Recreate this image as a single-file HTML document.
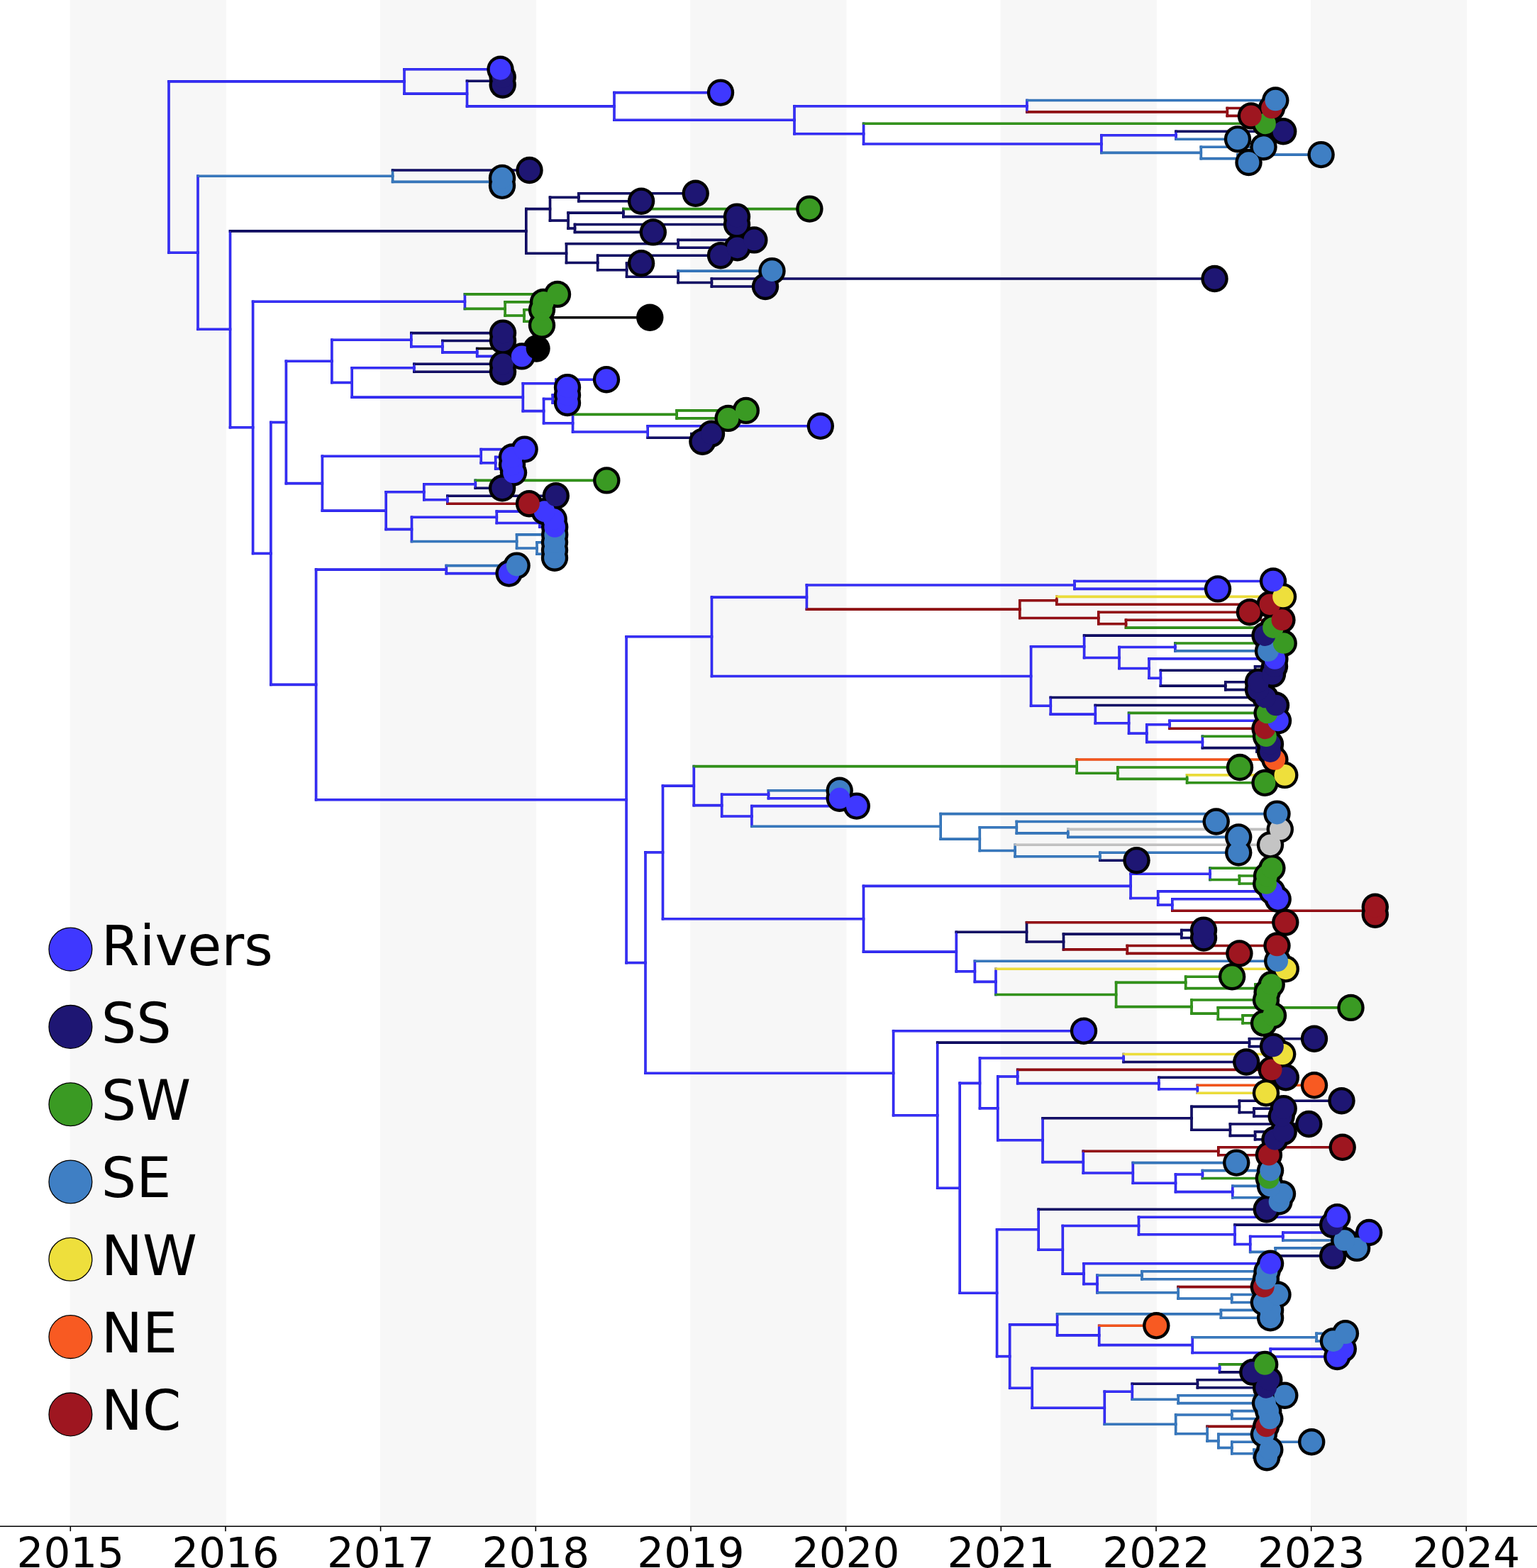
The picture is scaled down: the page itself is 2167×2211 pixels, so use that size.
<!DOCTYPE html>
<html><head><meta charset="utf-8"><title>Phylogeny</title>
<style>html,body{margin:0;padding:0;background:#fff;}svg{display:block;}</style>
</head><body>
<svg width="2167" height="2211" viewBox="0 0 2167 2211">
<rect x="0" y="0" width="2167" height="2211" fill="#ffffff"/>
<rect x="98.6" y="0" width="220.2" height="2152.2" fill="#f7f7f7"/>
<rect x="535.9" y="0" width="220.2" height="2152.2" fill="#f7f7f7"/>
<rect x="973.3" y="0" width="220.2" height="2152.2" fill="#f7f7f7"/>
<rect x="1410.6" y="0" width="220.2" height="2152.2" fill="#f7f7f7"/>
<rect x="1848.0" y="0" width="220.2" height="2152.2" fill="#f7f7f7"/>
<g stroke-width="3.6" stroke-linecap="square" fill="none">
<line x1="705.0" y1="108.7" x2="705.0" y2="119.7" stroke="#000051"/>
<line x1="1730.3" y1="152.5" x2="1730.3" y2="163.4" stroke="#810003"/>
<line x1="1447.9" y1="141.5" x2="1447.9" y2="157.9" stroke="#241de4"/>
<line x1="1658.0" y1="185.3" x2="1658.0" y2="196.2" stroke="#241de4"/>
<line x1="1745.0" y1="218.1" x2="1745.0" y2="229.0" stroke="#2a6aaf"/>
<line x1="1693.3" y1="207.2" x2="1693.3" y2="223.6" stroke="#2a6aaf"/>
<line x1="1552.9" y1="190.7" x2="1552.9" y2="215.4" stroke="#241de4"/>
<line x1="1217.6" y1="174.3" x2="1217.6" y2="203.0" stroke="#241de4"/>
<line x1="1120.0" y1="149.7" x2="1120.0" y2="188.7" stroke="#241de4"/>
<line x1="866.0" y1="130.6" x2="866.0" y2="169.2" stroke="#241de4"/>
<line x1="658.5" y1="114.2" x2="658.5" y2="149.9" stroke="#241de4"/>
<line x1="570.0" y1="97.8" x2="570.0" y2="132.1" stroke="#241de4"/>
<line x1="705.0" y1="250.9" x2="705.0" y2="261.8" stroke="#2a6aaf"/>
<line x1="553.6" y1="240.0" x2="553.6" y2="256.4" stroke="#2a6aaf"/>
<line x1="815.9" y1="272.8" x2="815.9" y2="283.7" stroke="#000051"/>
<line x1="878.9" y1="294.6" x2="878.9" y2="305.6" stroke="#000051"/>
<line x1="810.5" y1="316.5" x2="810.5" y2="327.4" stroke="#000051"/>
<line x1="801.1" y1="300.1" x2="801.1" y2="322.0" stroke="#000051"/>
<line x1="775.5" y1="278.2" x2="775.5" y2="311.0" stroke="#000051"/>
<line x1="956.1" y1="338.4" x2="956.1" y2="349.3" stroke="#000051"/>
<line x1="1003.4" y1="393.0" x2="1003.4" y2="404.0" stroke="#000051"/>
<line x1="956.1" y1="382.1" x2="956.1" y2="398.5" stroke="#000051"/>
<line x1="883.6" y1="371.2" x2="883.6" y2="390.3" stroke="#000051"/>
<line x1="842.7" y1="360.2" x2="842.7" y2="380.7" stroke="#000051"/>
<line x1="798.5" y1="343.8" x2="798.5" y2="370.5" stroke="#000051"/>
<line x1="741.8" y1="294.6" x2="741.8" y2="357.2" stroke="#000051"/>
<line x1="778.0" y1="447.7" x2="778.0" y2="458.7" stroke="#24840d"/>
<line x1="739.0" y1="436.8" x2="739.0" y2="453.2" stroke="#24840d"/>
<line x1="712.1" y1="425.9" x2="712.1" y2="445.0" stroke="#24840d"/>
<line x1="655.4" y1="414.9" x2="655.4" y2="435.4" stroke="#241de4"/>
<line x1="672.7" y1="491.5" x2="672.7" y2="502.4" stroke="#241de4"/>
<line x1="623.9" y1="480.5" x2="623.9" y2="496.9" stroke="#241de4"/>
<line x1="579.8" y1="469.6" x2="579.8" y2="488.7" stroke="#241de4"/>
<line x1="583.9" y1="513.3" x2="583.9" y2="524.3" stroke="#241de4"/>
<line x1="784.0" y1="535.2" x2="784.0" y2="546.1" stroke="#241de4"/>
<line x1="779.2" y1="557.1" x2="779.2" y2="568.0" stroke="#241de4"/>
<line x1="954.1" y1="578.9" x2="954.1" y2="589.9" stroke="#24840d"/>
<line x1="975.0" y1="611.7" x2="975.0" y2="622.7" stroke="#000051"/>
<line x1="913.2" y1="600.8" x2="913.2" y2="617.2" stroke="#241de4"/>
<line x1="807.6" y1="584.4" x2="807.6" y2="609.0" stroke="#241de4"/>
<line x1="766.6" y1="562.5" x2="766.6" y2="596.7" stroke="#241de4"/>
<line x1="737.3" y1="540.7" x2="737.3" y2="579.6" stroke="#241de4"/>
<line x1="496.2" y1="518.8" x2="496.2" y2="560.1" stroke="#241de4"/>
<line x1="467.9" y1="479.2" x2="467.9" y2="539.5" stroke="#241de4"/>
<line x1="710.0" y1="655.5" x2="710.0" y2="666.4" stroke="#241de4"/>
<line x1="698.7" y1="644.5" x2="698.7" y2="661.0" stroke="#241de4"/>
<line x1="678.2" y1="633.6" x2="678.2" y2="652.8" stroke="#241de4"/>
<line x1="670.3" y1="677.4" x2="670.3" y2="688.3" stroke="#241de4"/>
<line x1="630.9" y1="699.2" x2="630.9" y2="710.2" stroke="#241de4"/>
<line x1="597.8" y1="682.8" x2="597.8" y2="704.7" stroke="#241de4"/>
<line x1="760.9" y1="732.0" x2="760.9" y2="743.0" stroke="#241de4"/>
<line x1="700.3" y1="721.1" x2="700.3" y2="737.5" stroke="#241de4"/>
<line x1="770.0" y1="775.8" x2="770.0" y2="786.7" stroke="#2a6aaf"/>
<line x1="757.0" y1="764.8" x2="757.0" y2="781.2" stroke="#2a6aaf"/>
<line x1="728.6" y1="753.9" x2="728.6" y2="773.0" stroke="#2a6aaf"/>
<line x1="580.5" y1="729.3" x2="580.5" y2="763.5" stroke="#241de4"/>
<line x1="544.2" y1="693.8" x2="544.2" y2="746.4" stroke="#241de4"/>
<line x1="454.4" y1="643.2" x2="454.4" y2="720.1" stroke="#241de4"/>
<line x1="403.4" y1="509.3" x2="403.4" y2="681.6" stroke="#241de4"/>
<line x1="629.3" y1="797.6" x2="629.3" y2="808.6" stroke="#241de4"/>
<line x1="1515.0" y1="819.5" x2="1515.0" y2="830.4" stroke="#241de4"/>
<line x1="1489.8" y1="841.4" x2="1489.8" y2="852.3" stroke="#810003"/>
<line x1="1587.5" y1="874.2" x2="1587.5" y2="885.1" stroke="#810003"/>
<line x1="1548.8" y1="863.2" x2="1548.8" y2="879.7" stroke="#810003"/>
<line x1="1437.8" y1="846.8" x2="1437.8" y2="871.5" stroke="#810003"/>
<line x1="1137.4" y1="825.0" x2="1137.4" y2="859.1" stroke="#241de4"/>
<line x1="1656.9" y1="907.0" x2="1656.9" y2="917.9" stroke="#241de4"/>
<line x1="1769.6" y1="939.8" x2="1769.6" y2="950.7" stroke="#000051"/>
<line x1="1727.8" y1="961.7" x2="1727.8" y2="972.6" stroke="#000051"/>
<line x1="1636.4" y1="945.3" x2="1636.4" y2="967.1" stroke="#241de4"/>
<line x1="1620.0" y1="928.9" x2="1620.0" y2="956.2" stroke="#241de4"/>
<line x1="1578.0" y1="912.5" x2="1578.0" y2="942.5" stroke="#241de4"/>
<line x1="1528.6" y1="896.1" x2="1528.6" y2="927.5" stroke="#241de4"/>
<line x1="1649.0" y1="1016.3" x2="1649.0" y2="1027.3" stroke="#241de4"/>
<line x1="1772.0" y1="1049.1" x2="1772.0" y2="1060.1" stroke="#000051"/>
<line x1="1695.4" y1="1038.2" x2="1695.4" y2="1054.6" stroke="#241de4"/>
<line x1="1616.8" y1="1021.8" x2="1616.8" y2="1046.4" stroke="#241de4"/>
<line x1="1591.6" y1="1005.4" x2="1591.6" y2="1034.1" stroke="#241de4"/>
<line x1="1544.3" y1="994.5" x2="1544.3" y2="1019.8" stroke="#241de4"/>
<line x1="1481.3" y1="983.5" x2="1481.3" y2="1007.1" stroke="#241de4"/>
<line x1="1453.6" y1="911.8" x2="1453.6" y2="995.3" stroke="#241de4"/>
<line x1="1003.5" y1="842.1" x2="1003.5" y2="953.5" stroke="#241de4"/>
<line x1="1673.6" y1="1092.9" x2="1673.6" y2="1103.8" stroke="#24840d"/>
<line x1="1575.9" y1="1082.0" x2="1575.9" y2="1098.4" stroke="#24840d"/>
<line x1="1518.2" y1="1071.0" x2="1518.2" y2="1090.2" stroke="#24840d"/>
<line x1="1083.5" y1="1114.8" x2="1083.5" y2="1125.7" stroke="#241de4"/>
<line x1="1505.8" y1="1169.4" x2="1505.8" y2="1180.4" stroke="#2a6aaf"/>
<line x1="1433.3" y1="1158.5" x2="1433.3" y2="1174.9" stroke="#2a6aaf"/>
<line x1="1550.9" y1="1202.2" x2="1550.9" y2="1213.2" stroke="#2a6aaf"/>
<line x1="1431.1" y1="1191.3" x2="1431.1" y2="1207.7" stroke="#2a6aaf"/>
<line x1="1381.3" y1="1166.7" x2="1381.3" y2="1199.5" stroke="#2a6aaf"/>
<line x1="1326.2" y1="1147.6" x2="1326.2" y2="1183.1" stroke="#2a6aaf"/>
<line x1="1059.9" y1="1136.6" x2="1059.9" y2="1165.3" stroke="#241de4"/>
<line x1="1017.7" y1="1120.2" x2="1017.7" y2="1151.0" stroke="#241de4"/>
<line x1="978.3" y1="1080.6" x2="978.3" y2="1135.6" stroke="#241de4"/>
<line x1="1747.4" y1="1235.0" x2="1747.4" y2="1246.0" stroke="#24840d"/>
<line x1="1706.0" y1="1224.1" x2="1706.0" y2="1240.5" stroke="#241de4"/>
<line x1="1935.0" y1="1278.8" x2="1935.0" y2="1289.7" stroke="#810003"/>
<line x1="1652.8" y1="1267.8" x2="1652.8" y2="1284.2" stroke="#241de4"/>
<line x1="1632.7" y1="1256.9" x2="1632.7" y2="1276.0" stroke="#241de4"/>
<line x1="1594.1" y1="1232.3" x2="1594.1" y2="1266.5" stroke="#241de4"/>
<line x1="1665.8" y1="1311.6" x2="1665.8" y2="1322.5" stroke="#000051"/>
<line x1="1589.3" y1="1333.5" x2="1589.3" y2="1344.4" stroke="#810003"/>
<line x1="1499.5" y1="1317.1" x2="1499.5" y2="1338.9" stroke="#000051"/>
<line x1="1447.5" y1="1300.7" x2="1447.5" y2="1328.0" stroke="#000051"/>
<line x1="1770.0" y1="1388.1" x2="1770.0" y2="1399.1" stroke="#24840d"/>
<line x1="1671.7" y1="1377.2" x2="1671.7" y2="1393.6" stroke="#24840d"/>
<line x1="1752.1" y1="1431.9" x2="1752.1" y2="1442.8" stroke="#24840d"/>
<line x1="1717.3" y1="1420.9" x2="1717.3" y2="1437.3" stroke="#24840d"/>
<line x1="1680.0" y1="1410.0" x2="1680.0" y2="1429.1" stroke="#24840d"/>
<line x1="1573.6" y1="1385.4" x2="1573.6" y2="1419.6" stroke="#24840d"/>
<line x1="1404.0" y1="1366.3" x2="1404.0" y2="1402.5" stroke="#241de4"/>
<line x1="1374.4" y1="1355.3" x2="1374.4" y2="1384.4" stroke="#241de4"/>
<line x1="1348.3" y1="1314.3" x2="1348.3" y2="1369.8" stroke="#241de4"/>
<line x1="1217.5" y1="1249.4" x2="1217.5" y2="1342.1" stroke="#241de4"/>
<line x1="934.5" y1="1108.1" x2="934.5" y2="1295.7" stroke="#241de4"/>
<line x1="1761.5" y1="1464.7" x2="1761.5" y2="1475.6" stroke="#000051"/>
<line x1="1584.1" y1="1486.5" x2="1584.1" y2="1497.5" stroke="#241de4"/>
<line x1="1688.3" y1="1530.3" x2="1688.3" y2="1541.2" stroke="#241de4"/>
<line x1="1633.9" y1="1519.3" x2="1633.9" y2="1535.8" stroke="#241de4"/>
<line x1="1434.7" y1="1508.4" x2="1434.7" y2="1527.6" stroke="#241de4"/>
<line x1="1768.0" y1="1563.1" x2="1768.0" y2="1574.0" stroke="#000051"/>
<line x1="1747.4" y1="1552.2" x2="1747.4" y2="1568.6" stroke="#000051"/>
<line x1="1769.6" y1="1595.9" x2="1769.6" y2="1606.8" stroke="#000051"/>
<line x1="1734.4" y1="1585.0" x2="1734.4" y2="1601.4" stroke="#000051"/>
<line x1="1680.0" y1="1560.4" x2="1680.0" y2="1593.2" stroke="#000051"/>
<line x1="1717.8" y1="1617.8" x2="1717.8" y2="1628.7" stroke="#810003"/>
<line x1="1695.4" y1="1650.6" x2="1695.4" y2="1661.5" stroke="#241de4"/>
<line x1="1785.0" y1="1683.4" x2="1785.0" y2="1694.3" stroke="#2a6aaf"/>
<line x1="1737.8" y1="1672.4" x2="1737.8" y2="1688.8" stroke="#241de4"/>
<line x1="1657.5" y1="1656.0" x2="1657.5" y2="1680.6" stroke="#241de4"/>
<line x1="1597.3" y1="1639.6" x2="1597.3" y2="1668.3" stroke="#241de4"/>
<line x1="1527.3" y1="1623.2" x2="1527.3" y2="1654.0" stroke="#241de4"/>
<line x1="1470.1" y1="1576.8" x2="1470.1" y2="1638.6" stroke="#241de4"/>
<line x1="1406.8" y1="1518.0" x2="1406.8" y2="1607.7" stroke="#241de4"/>
<line x1="1381.5" y1="1492.0" x2="1381.5" y2="1562.8" stroke="#241de4"/>
<line x1="1808.8" y1="1738.0" x2="1808.8" y2="1749.0" stroke="#241de4"/>
<line x1="1798.2" y1="1759.9" x2="1798.2" y2="1770.9" stroke="#2a6aaf"/>
<line x1="1762.7" y1="1743.5" x2="1762.7" y2="1765.4" stroke="#241de4"/>
<line x1="1741.0" y1="1727.1" x2="1741.0" y2="1754.5" stroke="#241de4"/>
<line x1="1605.5" y1="1716.2" x2="1605.5" y2="1740.8" stroke="#241de4"/>
<line x1="1610.0" y1="1792.7" x2="1610.0" y2="1803.7" stroke="#2a6aaf"/>
<line x1="1736.7" y1="1825.5" x2="1736.7" y2="1836.5" stroke="#2a6aaf"/>
<line x1="1661.1" y1="1814.6" x2="1661.1" y2="1831.0" stroke="#2a6aaf"/>
<line x1="1547.0" y1="1798.2" x2="1547.0" y2="1822.8" stroke="#241de4"/>
<line x1="1528.0" y1="1781.8" x2="1528.0" y2="1810.5" stroke="#241de4"/>
<line x1="1498.3" y1="1728.5" x2="1498.3" y2="1796.1" stroke="#241de4"/>
<line x1="1464.2" y1="1705.2" x2="1464.2" y2="1762.3" stroke="#241de4"/>
<line x1="1721.4" y1="1847.4" x2="1721.4" y2="1858.3" stroke="#2a6aaf"/>
<line x1="1856.1" y1="1880.2" x2="1856.1" y2="1891.1" stroke="#2a6aaf"/>
<line x1="1791.3" y1="1902.1" x2="1791.3" y2="1913.0" stroke="#241de4"/>
<line x1="1681.2" y1="1885.7" x2="1681.2" y2="1907.5" stroke="#241de4"/>
<line x1="1549.7" y1="1869.3" x2="1549.7" y2="1896.6" stroke="#241de4"/>
<line x1="1490.6" y1="1852.9" x2="1490.6" y2="1882.9" stroke="#241de4"/>
<line x1="1719.6" y1="1923.9" x2="1719.6" y2="1934.9" stroke="#241de4"/>
<line x1="1688.4" y1="1945.8" x2="1688.4" y2="1956.8" stroke="#000051"/>
<line x1="1661.2" y1="1967.7" x2="1661.2" y2="1978.6" stroke="#2a6aaf"/>
<line x1="1596.3" y1="1951.3" x2="1596.3" y2="1973.2" stroke="#241de4"/>
<line x1="1736.8" y1="1989.6" x2="1736.8" y2="2000.5" stroke="#2a6aaf"/>
<line x1="1768.0" y1="2044.2" x2="1768.0" y2="2055.2" stroke="#2a6aaf"/>
<line x1="1736.8" y1="2033.3" x2="1736.8" y2="2049.7" stroke="#2a6aaf"/>
<line x1="1717.9" y1="2022.4" x2="1717.9" y2="2041.5" stroke="#2a6aaf"/>
<line x1="1702.1" y1="2011.4" x2="1702.1" y2="2031.9" stroke="#2a6aaf"/>
<line x1="1657.7" y1="1995.0" x2="1657.7" y2="2021.7" stroke="#2a6aaf"/>
<line x1="1557.3" y1="1962.2" x2="1557.3" y2="2008.3" stroke="#241de4"/>
<line x1="1455.2" y1="1929.4" x2="1455.2" y2="1985.3" stroke="#241de4"/>
<line x1="1423.7" y1="1867.9" x2="1423.7" y2="1957.3" stroke="#241de4"/>
<line x1="1405.6" y1="1733.8" x2="1405.6" y2="1912.6" stroke="#241de4"/>
<line x1="1353.2" y1="1527.4" x2="1353.2" y2="1823.2" stroke="#241de4"/>
<line x1="1321.7" y1="1470.1" x2="1321.7" y2="1675.3" stroke="#241de4"/>
<line x1="1259.6" y1="1453.7" x2="1259.6" y2="1572.7" stroke="#241de4"/>
<line x1="910.0" y1="1201.9" x2="910.0" y2="1513.2" stroke="#241de4"/>
<line x1="883.1" y1="897.8" x2="883.1" y2="1357.6" stroke="#241de4"/>
<line x1="445.6" y1="803.1" x2="445.6" y2="1127.7" stroke="#241de4"/>
<line x1="381.9" y1="595.5" x2="381.9" y2="965.4" stroke="#241de4"/>
<line x1="356.6" y1="425.2" x2="356.6" y2="780.4" stroke="#241de4"/>
<line x1="324.5" y1="325.9" x2="324.5" y2="602.8" stroke="#241de4"/>
<line x1="279.0" y1="248.2" x2="279.0" y2="464.3" stroke="#241de4"/>
<line x1="238.0" y1="114.9" x2="238.0" y2="356.3" stroke="#241de4"/>
<line x1="570.0" y1="97.8" x2="705.5" y2="97.8" stroke="#241de4"/>
<line x1="705.0" y1="108.7" x2="708.7" y2="108.7" stroke="#000051"/>
<line x1="705.0" y1="119.7" x2="708.7" y2="119.7" stroke="#000051"/>
<line x1="658.5" y1="114.2" x2="705.0" y2="114.2" stroke="#000051"/>
<line x1="866.0" y1="130.6" x2="1016.0" y2="130.6" stroke="#241de4"/>
<line x1="1447.9" y1="141.5" x2="1798.3" y2="141.5" stroke="#2a6aaf"/>
<line x1="1730.3" y1="152.5" x2="1793.0" y2="152.5" stroke="#810003"/>
<line x1="1730.3" y1="163.4" x2="1763.9" y2="163.4" stroke="#810003"/>
<line x1="1447.9" y1="157.9" x2="1730.3" y2="157.9" stroke="#810003"/>
<line x1="1120.0" y1="149.7" x2="1447.9" y2="149.7" stroke="#241de4"/>
<line x1="1217.6" y1="174.3" x2="1784.0" y2="174.3" stroke="#24840d"/>
<line x1="1658.0" y1="185.3" x2="1809.2" y2="185.3" stroke="#000051"/>
<line x1="1658.0" y1="196.2" x2="1745.0" y2="196.2" stroke="#2a6aaf"/>
<line x1="1552.9" y1="190.7" x2="1658.0" y2="190.7" stroke="#241de4"/>
<line x1="1693.3" y1="207.2" x2="1781.5" y2="207.2" stroke="#2a6aaf"/>
<line x1="1745.0" y1="218.1" x2="1862.6" y2="218.1" stroke="#2a6aaf"/>
<line x1="1745.0" y1="229.0" x2="1760.5" y2="229.0" stroke="#2a6aaf"/>
<line x1="1693.3" y1="223.6" x2="1745.0" y2="223.6" stroke="#2a6aaf"/>
<line x1="1552.9" y1="215.4" x2="1693.3" y2="215.4" stroke="#2a6aaf"/>
<line x1="1217.6" y1="203.0" x2="1552.9" y2="203.0" stroke="#241de4"/>
<line x1="1120.0" y1="188.7" x2="1217.6" y2="188.7" stroke="#241de4"/>
<line x1="866.0" y1="169.2" x2="1120.0" y2="169.2" stroke="#241de4"/>
<line x1="658.5" y1="149.9" x2="866.0" y2="149.9" stroke="#241de4"/>
<line x1="570.0" y1="132.1" x2="658.5" y2="132.1" stroke="#241de4"/>
<line x1="238.0" y1="114.9" x2="570.0" y2="114.9" stroke="#241de4"/>
<line x1="553.6" y1="240.0" x2="746.5" y2="240.0" stroke="#000051"/>
<line x1="705.0" y1="250.9" x2="708.0" y2="250.9" stroke="#2a6aaf"/>
<line x1="705.0" y1="261.8" x2="708.0" y2="261.8" stroke="#2a6aaf"/>
<line x1="553.6" y1="256.4" x2="705.0" y2="256.4" stroke="#2a6aaf"/>
<line x1="279.0" y1="248.2" x2="553.6" y2="248.2" stroke="#2a6aaf"/>
<line x1="815.9" y1="272.8" x2="980.7" y2="272.8" stroke="#000051"/>
<line x1="815.9" y1="283.7" x2="904.1" y2="283.7" stroke="#000051"/>
<line x1="775.5" y1="278.2" x2="815.9" y2="278.2" stroke="#000051"/>
<line x1="878.9" y1="294.6" x2="1141.4" y2="294.6" stroke="#24840d"/>
<line x1="878.9" y1="305.6" x2="1039.0" y2="305.6" stroke="#000051"/>
<line x1="801.1" y1="300.1" x2="878.9" y2="300.1" stroke="#000051"/>
<line x1="810.5" y1="316.5" x2="1039.0" y2="316.5" stroke="#000051"/>
<line x1="810.5" y1="327.4" x2="920.8" y2="327.4" stroke="#000051"/>
<line x1="801.1" y1="322.0" x2="810.5" y2="322.0" stroke="#000051"/>
<line x1="775.5" y1="311.0" x2="801.1" y2="311.0" stroke="#000051"/>
<line x1="741.8" y1="294.6" x2="775.5" y2="294.6" stroke="#000051"/>
<line x1="956.1" y1="338.4" x2="1063.3" y2="338.4" stroke="#000051"/>
<line x1="956.1" y1="349.3" x2="1039.6" y2="349.3" stroke="#000051"/>
<line x1="798.5" y1="343.8" x2="956.1" y2="343.8" stroke="#000051"/>
<line x1="842.7" y1="360.2" x2="1016.0" y2="360.2" stroke="#000051"/>
<line x1="883.6" y1="371.2" x2="904.1" y2="371.2" stroke="#000051"/>
<line x1="956.1" y1="382.1" x2="1088.5" y2="382.1" stroke="#2a6aaf"/>
<line x1="1003.4" y1="393.0" x2="1712.5" y2="393.0" stroke="#000051"/>
<line x1="1003.4" y1="404.0" x2="1079.0" y2="404.0" stroke="#000051"/>
<line x1="956.1" y1="398.5" x2="1003.4" y2="398.5" stroke="#000051"/>
<line x1="883.6" y1="390.3" x2="956.1" y2="390.3" stroke="#000051"/>
<line x1="842.7" y1="380.7" x2="883.6" y2="380.7" stroke="#000051"/>
<line x1="798.5" y1="370.5" x2="842.7" y2="370.5" stroke="#000051"/>
<line x1="741.8" y1="357.2" x2="798.5" y2="357.2" stroke="#000051"/>
<line x1="324.5" y1="325.9" x2="741.8" y2="325.9" stroke="#000051"/>
<line x1="655.4" y1="414.9" x2="786.0" y2="414.9" stroke="#24840d"/>
<line x1="712.1" y1="425.9" x2="766.0" y2="425.9" stroke="#24840d"/>
<line x1="739.0" y1="436.8" x2="764.0" y2="436.8" stroke="#24840d"/>
<line x1="778.0" y1="447.7" x2="916.3" y2="447.7" stroke="#000000"/>
<line x1="778.0" y1="458.7" x2="764.0" y2="458.7" stroke="#24840d"/>
<line x1="739.0" y1="453.2" x2="778.0" y2="453.2" stroke="#24840d"/>
<line x1="712.1" y1="445.0" x2="739.0" y2="445.0" stroke="#24840d"/>
<line x1="655.4" y1="435.4" x2="712.1" y2="435.4" stroke="#24840d"/>
<line x1="356.6" y1="425.2" x2="655.4" y2="425.2" stroke="#241de4"/>
<line x1="579.8" y1="469.6" x2="709.0" y2="469.6" stroke="#000051"/>
<line x1="623.9" y1="480.5" x2="709.0" y2="480.5" stroke="#000051"/>
<line x1="672.7" y1="491.5" x2="756.5" y2="491.5" stroke="#000000"/>
<line x1="672.7" y1="502.4" x2="735.7" y2="502.4" stroke="#241de4"/>
<line x1="623.9" y1="496.9" x2="672.7" y2="496.9" stroke="#241de4"/>
<line x1="579.8" y1="488.7" x2="623.9" y2="488.7" stroke="#241de4"/>
<line x1="467.9" y1="479.2" x2="579.8" y2="479.2" stroke="#241de4"/>
<line x1="583.9" y1="513.3" x2="709.0" y2="513.3" stroke="#000051"/>
<line x1="583.9" y1="524.3" x2="709.0" y2="524.3" stroke="#000051"/>
<line x1="496.2" y1="518.8" x2="583.9" y2="518.8" stroke="#241de4"/>
<line x1="784.0" y1="535.2" x2="855.0" y2="535.2" stroke="#241de4"/>
<line x1="784.0" y1="546.1" x2="800.0" y2="546.1" stroke="#241de4"/>
<line x1="737.3" y1="540.7" x2="784.0" y2="540.7" stroke="#241de4"/>
<line x1="779.2" y1="557.1" x2="800.0" y2="557.1" stroke="#241de4"/>
<line x1="779.2" y1="568.0" x2="800.0" y2="568.0" stroke="#241de4"/>
<line x1="766.6" y1="562.5" x2="779.2" y2="562.5" stroke="#241de4"/>
<line x1="954.1" y1="578.9" x2="1051.8" y2="578.9" stroke="#24840d"/>
<line x1="954.1" y1="589.9" x2="1026.6" y2="589.9" stroke="#24840d"/>
<line x1="807.6" y1="584.4" x2="954.1" y2="584.4" stroke="#24840d"/>
<line x1="913.2" y1="600.8" x2="1156.8" y2="600.8" stroke="#241de4"/>
<line x1="975.0" y1="611.7" x2="1003.0" y2="611.7" stroke="#000051"/>
<line x1="975.0" y1="622.7" x2="990.4" y2="622.7" stroke="#000051"/>
<line x1="913.2" y1="617.2" x2="975.0" y2="617.2" stroke="#000051"/>
<line x1="807.6" y1="609.0" x2="913.2" y2="609.0" stroke="#241de4"/>
<line x1="766.6" y1="596.7" x2="807.6" y2="596.7" stroke="#241de4"/>
<line x1="737.3" y1="579.6" x2="766.6" y2="579.6" stroke="#241de4"/>
<line x1="496.2" y1="560.1" x2="737.3" y2="560.1" stroke="#241de4"/>
<line x1="467.9" y1="539.5" x2="496.2" y2="539.5" stroke="#241de4"/>
<line x1="403.4" y1="509.3" x2="467.9" y2="509.3" stroke="#241de4"/>
<line x1="678.2" y1="633.6" x2="739.6" y2="633.6" stroke="#241de4"/>
<line x1="698.7" y1="644.5" x2="722.0" y2="644.5" stroke="#241de4"/>
<line x1="710.0" y1="655.5" x2="722.0" y2="655.5" stroke="#241de4"/>
<line x1="710.0" y1="666.4" x2="724.0" y2="666.4" stroke="#241de4"/>
<line x1="698.7" y1="661.0" x2="710.0" y2="661.0" stroke="#241de4"/>
<line x1="678.2" y1="652.8" x2="698.7" y2="652.8" stroke="#241de4"/>
<line x1="454.4" y1="643.2" x2="678.2" y2="643.2" stroke="#241de4"/>
<line x1="670.3" y1="677.4" x2="855.3" y2="677.4" stroke="#24840d"/>
<line x1="670.3" y1="688.3" x2="708.1" y2="688.3" stroke="#000051"/>
<line x1="597.8" y1="682.8" x2="670.3" y2="682.8" stroke="#241de4"/>
<line x1="630.9" y1="699.2" x2="783.8" y2="699.2" stroke="#000051"/>
<line x1="630.9" y1="710.2" x2="746.0" y2="710.2" stroke="#810003"/>
<line x1="597.8" y1="704.7" x2="630.9" y2="704.7" stroke="#241de4"/>
<line x1="544.2" y1="693.8" x2="597.8" y2="693.8" stroke="#241de4"/>
<line x1="700.3" y1="721.1" x2="767.5" y2="721.1" stroke="#241de4"/>
<line x1="760.9" y1="732.0" x2="780.7" y2="732.0" stroke="#241de4"/>
<line x1="760.9" y1="743.0" x2="782.2" y2="743.0" stroke="#241de4"/>
<line x1="700.3" y1="737.5" x2="760.9" y2="737.5" stroke="#241de4"/>
<line x1="580.5" y1="729.3" x2="700.3" y2="729.3" stroke="#241de4"/>
<line x1="728.6" y1="753.9" x2="782.2" y2="753.9" stroke="#2a6aaf"/>
<line x1="757.0" y1="764.8" x2="782.0" y2="764.8" stroke="#2a6aaf"/>
<line x1="770.0" y1="775.8" x2="782.0" y2="775.8" stroke="#2a6aaf"/>
<line x1="770.0" y1="786.7" x2="782.0" y2="786.7" stroke="#2a6aaf"/>
<line x1="757.0" y1="781.2" x2="770.0" y2="781.2" stroke="#2a6aaf"/>
<line x1="728.6" y1="773.0" x2="757.0" y2="773.0" stroke="#2a6aaf"/>
<line x1="580.5" y1="763.5" x2="728.6" y2="763.5" stroke="#2a6aaf"/>
<line x1="544.2" y1="746.4" x2="580.5" y2="746.4" stroke="#241de4"/>
<line x1="454.4" y1="720.1" x2="544.2" y2="720.1" stroke="#241de4"/>
<line x1="403.4" y1="681.6" x2="454.4" y2="681.6" stroke="#241de4"/>
<line x1="381.9" y1="595.5" x2="403.4" y2="595.5" stroke="#241de4"/>
<line x1="629.3" y1="797.6" x2="728.6" y2="797.6" stroke="#2a6aaf"/>
<line x1="629.3" y1="808.6" x2="717.6" y2="808.6" stroke="#241de4"/>
<line x1="445.6" y1="803.1" x2="629.3" y2="803.1" stroke="#241de4"/>
<line x1="1515.0" y1="819.5" x2="1795.0" y2="819.5" stroke="#241de4"/>
<line x1="1515.0" y1="830.4" x2="1717.0" y2="830.4" stroke="#241de4"/>
<line x1="1137.4" y1="825.0" x2="1515.0" y2="825.0" stroke="#241de4"/>
<line x1="1489.8" y1="841.4" x2="1809.0" y2="841.4" stroke="#e7d835"/>
<line x1="1489.8" y1="852.3" x2="1790.4" y2="852.3" stroke="#810003"/>
<line x1="1437.8" y1="846.8" x2="1489.8" y2="846.8" stroke="#810003"/>
<line x1="1548.8" y1="863.2" x2="1761.9" y2="863.2" stroke="#810003"/>
<line x1="1587.5" y1="874.2" x2="1807.4" y2="874.2" stroke="#810003"/>
<line x1="1587.5" y1="885.1" x2="1795.0" y2="885.1" stroke="#24840d"/>
<line x1="1548.8" y1="879.7" x2="1587.5" y2="879.7" stroke="#810003"/>
<line x1="1437.8" y1="871.5" x2="1548.8" y2="871.5" stroke="#810003"/>
<line x1="1137.4" y1="859.1" x2="1437.8" y2="859.1" stroke="#810003"/>
<line x1="1003.5" y1="842.1" x2="1137.4" y2="842.1" stroke="#241de4"/>
<line x1="1528.6" y1="896.1" x2="1783.5" y2="896.1" stroke="#000051"/>
<line x1="1656.9" y1="907.0" x2="1809.7" y2="907.0" stroke="#24840d"/>
<line x1="1656.9" y1="917.9" x2="1788.0" y2="917.9" stroke="#2a6aaf"/>
<line x1="1578.0" y1="912.5" x2="1656.9" y2="912.5" stroke="#241de4"/>
<line x1="1620.0" y1="928.9" x2="1797.4" y2="928.9" stroke="#241de4"/>
<line x1="1769.6" y1="939.8" x2="1797.0" y2="939.8" stroke="#000051"/>
<line x1="1769.6" y1="950.7" x2="1794.0" y2="950.7" stroke="#000051"/>
<line x1="1636.4" y1="945.3" x2="1769.6" y2="945.3" stroke="#000051"/>
<line x1="1727.8" y1="961.7" x2="1774.0" y2="961.7" stroke="#000051"/>
<line x1="1727.8" y1="972.6" x2="1774.0" y2="972.6" stroke="#000051"/>
<line x1="1636.4" y1="967.1" x2="1727.8" y2="967.1" stroke="#000051"/>
<line x1="1620.0" y1="956.2" x2="1636.4" y2="956.2" stroke="#241de4"/>
<line x1="1578.0" y1="942.5" x2="1620.0" y2="942.5" stroke="#241de4"/>
<line x1="1528.6" y1="927.5" x2="1578.0" y2="927.5" stroke="#241de4"/>
<line x1="1453.6" y1="911.8" x2="1528.6" y2="911.8" stroke="#241de4"/>
<line x1="1481.3" y1="983.5" x2="1784.0" y2="983.5" stroke="#000051"/>
<line x1="1544.3" y1="994.5" x2="1799.0" y2="994.5" stroke="#000051"/>
<line x1="1591.6" y1="1005.4" x2="1786.6" y2="1005.4" stroke="#24840d"/>
<line x1="1649.0" y1="1016.3" x2="1802.0" y2="1016.3" stroke="#241de4"/>
<line x1="1649.0" y1="1027.3" x2="1783.5" y2="1027.3" stroke="#810003"/>
<line x1="1616.8" y1="1021.8" x2="1649.0" y2="1021.8" stroke="#241de4"/>
<line x1="1695.4" y1="1038.2" x2="1785.0" y2="1038.2" stroke="#24840d"/>
<line x1="1772.0" y1="1049.1" x2="1791.0" y2="1049.1" stroke="#000051"/>
<line x1="1772.0" y1="1060.1" x2="1791.0" y2="1060.1" stroke="#000051"/>
<line x1="1695.4" y1="1054.6" x2="1772.0" y2="1054.6" stroke="#000051"/>
<line x1="1616.8" y1="1046.4" x2="1695.4" y2="1046.4" stroke="#241de4"/>
<line x1="1591.6" y1="1034.1" x2="1616.8" y2="1034.1" stroke="#241de4"/>
<line x1="1544.3" y1="1019.8" x2="1591.6" y2="1019.8" stroke="#241de4"/>
<line x1="1481.3" y1="1007.1" x2="1544.3" y2="1007.1" stroke="#241de4"/>
<line x1="1453.6" y1="995.3" x2="1481.3" y2="995.3" stroke="#241de4"/>
<line x1="1003.5" y1="953.5" x2="1453.6" y2="953.5" stroke="#241de4"/>
<line x1="883.1" y1="897.8" x2="1003.5" y2="897.8" stroke="#241de4"/>
<line x1="1518.2" y1="1071.0" x2="1797.4" y2="1071.0" stroke="#e5470f"/>
<line x1="1575.9" y1="1082.0" x2="1748.0" y2="1082.0" stroke="#24840d"/>
<line x1="1673.6" y1="1092.9" x2="1811.3" y2="1092.9" stroke="#e7d835"/>
<line x1="1673.6" y1="1103.8" x2="1783.5" y2="1103.8" stroke="#24840d"/>
<line x1="1575.9" y1="1098.4" x2="1673.6" y2="1098.4" stroke="#24840d"/>
<line x1="1518.2" y1="1090.2" x2="1575.9" y2="1090.2" stroke="#24840d"/>
<line x1="978.3" y1="1080.6" x2="1518.2" y2="1080.6" stroke="#24840d"/>
<line x1="1083.5" y1="1114.8" x2="1183.7" y2="1114.8" stroke="#2a6aaf"/>
<line x1="1083.5" y1="1125.7" x2="1183.7" y2="1125.7" stroke="#241de4"/>
<line x1="1017.7" y1="1120.2" x2="1083.5" y2="1120.2" stroke="#241de4"/>
<line x1="1059.9" y1="1136.6" x2="1207.8" y2="1136.6" stroke="#241de4"/>
<line x1="1326.2" y1="1147.6" x2="1800.5" y2="1147.6" stroke="#2a6aaf"/>
<line x1="1433.3" y1="1158.5" x2="1714.7" y2="1158.5" stroke="#2a6aaf"/>
<line x1="1505.8" y1="1169.4" x2="1804.8" y2="1169.4" stroke="#bbbbbb"/>
<line x1="1505.8" y1="1180.4" x2="1746.2" y2="1180.4" stroke="#2a6aaf"/>
<line x1="1433.3" y1="1174.9" x2="1505.8" y2="1174.9" stroke="#2a6aaf"/>
<line x1="1381.3" y1="1166.7" x2="1433.3" y2="1166.7" stroke="#2a6aaf"/>
<line x1="1431.1" y1="1191.3" x2="1791.0" y2="1191.3" stroke="#bbbbbb"/>
<line x1="1550.9" y1="1202.2" x2="1746.2" y2="1202.2" stroke="#2a6aaf"/>
<line x1="1550.9" y1="1213.2" x2="1602.5" y2="1213.2" stroke="#000051"/>
<line x1="1431.1" y1="1207.7" x2="1550.9" y2="1207.7" stroke="#2a6aaf"/>
<line x1="1381.3" y1="1199.5" x2="1431.1" y2="1199.5" stroke="#2a6aaf"/>
<line x1="1326.2" y1="1183.1" x2="1381.3" y2="1183.1" stroke="#2a6aaf"/>
<line x1="1059.9" y1="1165.3" x2="1326.2" y2="1165.3" stroke="#2a6aaf"/>
<line x1="1017.7" y1="1151.0" x2="1059.9" y2="1151.0" stroke="#241de4"/>
<line x1="978.3" y1="1135.6" x2="1017.7" y2="1135.6" stroke="#241de4"/>
<line x1="934.5" y1="1108.1" x2="978.3" y2="1108.1" stroke="#241de4"/>
<line x1="1706.0" y1="1224.1" x2="1793.4" y2="1224.1" stroke="#24840d"/>
<line x1="1747.4" y1="1235.0" x2="1786.0" y2="1235.0" stroke="#24840d"/>
<line x1="1747.4" y1="1246.0" x2="1785.2" y2="1246.0" stroke="#24840d"/>
<line x1="1706.0" y1="1240.5" x2="1747.4" y2="1240.5" stroke="#24840d"/>
<line x1="1594.1" y1="1232.3" x2="1706.0" y2="1232.3" stroke="#241de4"/>
<line x1="1632.7" y1="1256.9" x2="1793.4" y2="1256.9" stroke="#241de4"/>
<line x1="1652.8" y1="1267.8" x2="1801.7" y2="1267.8" stroke="#241de4"/>
<line x1="1935.0" y1="1278.8" x2="1938.8" y2="1278.8" stroke="#810003"/>
<line x1="1935.0" y1="1289.7" x2="1938.8" y2="1289.7" stroke="#810003"/>
<line x1="1652.8" y1="1284.2" x2="1935.0" y2="1284.2" stroke="#810003"/>
<line x1="1632.7" y1="1276.0" x2="1652.8" y2="1276.0" stroke="#241de4"/>
<line x1="1594.1" y1="1266.5" x2="1632.7" y2="1266.5" stroke="#241de4"/>
<line x1="1217.5" y1="1249.4" x2="1594.1" y2="1249.4" stroke="#241de4"/>
<line x1="1447.5" y1="1300.7" x2="1812.3" y2="1300.7" stroke="#810003"/>
<line x1="1665.8" y1="1311.6" x2="1697.0" y2="1311.6" stroke="#000051"/>
<line x1="1665.8" y1="1322.5" x2="1697.0" y2="1322.5" stroke="#000051"/>
<line x1="1499.5" y1="1317.1" x2="1665.8" y2="1317.1" stroke="#000051"/>
<line x1="1589.3" y1="1333.5" x2="1800.5" y2="1333.5" stroke="#810003"/>
<line x1="1589.3" y1="1344.4" x2="1747.4" y2="1344.4" stroke="#810003"/>
<line x1="1499.5" y1="1338.9" x2="1589.3" y2="1338.9" stroke="#810003"/>
<line x1="1447.5" y1="1328.0" x2="1499.5" y2="1328.0" stroke="#000051"/>
<line x1="1348.3" y1="1314.3" x2="1447.5" y2="1314.3" stroke="#000051"/>
<line x1="1374.4" y1="1355.3" x2="1801.2" y2="1355.3" stroke="#2a6aaf"/>
<line x1="1404.0" y1="1366.3" x2="1812.8" y2="1366.3" stroke="#e7d835"/>
<line x1="1671.7" y1="1377.2" x2="1737.1" y2="1377.2" stroke="#24840d"/>
<line x1="1770.0" y1="1388.1" x2="1792.7" y2="1388.1" stroke="#24840d"/>
<line x1="1770.0" y1="1399.1" x2="1786.6" y2="1399.1" stroke="#24840d"/>
<line x1="1671.7" y1="1393.6" x2="1770.0" y2="1393.6" stroke="#24840d"/>
<line x1="1573.6" y1="1385.4" x2="1671.7" y2="1385.4" stroke="#24840d"/>
<line x1="1680.0" y1="1410.0" x2="1785.0" y2="1410.0" stroke="#24840d"/>
<line x1="1717.3" y1="1420.9" x2="1904.5" y2="1420.9" stroke="#24840d"/>
<line x1="1752.1" y1="1431.9" x2="1795.0" y2="1431.9" stroke="#24840d"/>
<line x1="1752.1" y1="1442.8" x2="1782.0" y2="1442.8" stroke="#24840d"/>
<line x1="1717.3" y1="1437.3" x2="1752.1" y2="1437.3" stroke="#24840d"/>
<line x1="1680.0" y1="1429.1" x2="1717.3" y2="1429.1" stroke="#24840d"/>
<line x1="1573.6" y1="1419.6" x2="1680.0" y2="1419.6" stroke="#24840d"/>
<line x1="1404.0" y1="1402.5" x2="1573.6" y2="1402.5" stroke="#24840d"/>
<line x1="1374.4" y1="1384.4" x2="1404.0" y2="1384.4" stroke="#241de4"/>
<line x1="1348.3" y1="1369.8" x2="1374.4" y2="1369.8" stroke="#241de4"/>
<line x1="1217.5" y1="1342.1" x2="1348.3" y2="1342.1" stroke="#241de4"/>
<line x1="934.5" y1="1295.7" x2="1217.5" y2="1295.7" stroke="#241de4"/>
<line x1="910.0" y1="1201.9" x2="934.5" y2="1201.9" stroke="#241de4"/>
<line x1="1259.6" y1="1453.7" x2="1528.0" y2="1453.7" stroke="#241de4"/>
<line x1="1761.5" y1="1464.7" x2="1853.0" y2="1464.7" stroke="#000051"/>
<line x1="1761.5" y1="1475.6" x2="1795.0" y2="1475.6" stroke="#000051"/>
<line x1="1321.7" y1="1470.1" x2="1761.5" y2="1470.1" stroke="#000051"/>
<line x1="1584.1" y1="1486.5" x2="1808.2" y2="1486.5" stroke="#e7d835"/>
<line x1="1584.1" y1="1497.5" x2="1757.2" y2="1497.5" stroke="#000051"/>
<line x1="1381.5" y1="1492.0" x2="1584.1" y2="1492.0" stroke="#241de4"/>
<line x1="1434.7" y1="1508.4" x2="1792.7" y2="1508.4" stroke="#810003"/>
<line x1="1633.9" y1="1519.3" x2="1812.8" y2="1519.3" stroke="#000051"/>
<line x1="1688.3" y1="1530.3" x2="1853.0" y2="1530.3" stroke="#e5470f"/>
<line x1="1688.3" y1="1541.2" x2="1785.0" y2="1541.2" stroke="#e7d835"/>
<line x1="1633.9" y1="1535.8" x2="1688.3" y2="1535.8" stroke="#241de4"/>
<line x1="1434.7" y1="1527.6" x2="1633.9" y2="1527.6" stroke="#241de4"/>
<line x1="1406.8" y1="1518.0" x2="1434.7" y2="1518.0" stroke="#241de4"/>
<line x1="1747.4" y1="1552.2" x2="1891.5" y2="1552.2" stroke="#000051"/>
<line x1="1768.0" y1="1563.1" x2="1809.7" y2="1563.1" stroke="#000051"/>
<line x1="1768.0" y1="1574.0" x2="1806.6" y2="1574.0" stroke="#000051"/>
<line x1="1747.4" y1="1568.6" x2="1768.0" y2="1568.6" stroke="#000051"/>
<line x1="1680.0" y1="1560.4" x2="1747.4" y2="1560.4" stroke="#000051"/>
<line x1="1734.4" y1="1585.0" x2="1845.3" y2="1585.0" stroke="#000051"/>
<line x1="1769.6" y1="1595.9" x2="1809.7" y2="1595.9" stroke="#000051"/>
<line x1="1769.6" y1="1606.8" x2="1797.4" y2="1606.8" stroke="#000051"/>
<line x1="1734.4" y1="1601.4" x2="1769.6" y2="1601.4" stroke="#000051"/>
<line x1="1680.0" y1="1593.2" x2="1734.4" y2="1593.2" stroke="#000051"/>
<line x1="1470.1" y1="1576.8" x2="1680.0" y2="1576.8" stroke="#000051"/>
<line x1="1717.8" y1="1617.8" x2="1892.7" y2="1617.8" stroke="#810003"/>
<line x1="1717.8" y1="1628.7" x2="1788.9" y2="1628.7" stroke="#810003"/>
<line x1="1527.3" y1="1623.2" x2="1717.8" y2="1623.2" stroke="#810003"/>
<line x1="1597.3" y1="1639.6" x2="1743.2" y2="1639.6" stroke="#2a6aaf"/>
<line x1="1695.4" y1="1650.6" x2="1791.1" y2="1650.6" stroke="#2a6aaf"/>
<line x1="1695.4" y1="1661.5" x2="1788.8" y2="1661.5" stroke="#24840d"/>
<line x1="1657.5" y1="1656.0" x2="1695.4" y2="1656.0" stroke="#241de4"/>
<line x1="1737.8" y1="1672.4" x2="1791.0" y2="1672.4" stroke="#2a6aaf"/>
<line x1="1785.0" y1="1683.4" x2="1808.0" y2="1683.4" stroke="#2a6aaf"/>
<line x1="1785.0" y1="1694.3" x2="1803.5" y2="1694.3" stroke="#2a6aaf"/>
<line x1="1737.8" y1="1688.8" x2="1785.0" y2="1688.8" stroke="#2a6aaf"/>
<line x1="1657.5" y1="1680.6" x2="1737.8" y2="1680.6" stroke="#241de4"/>
<line x1="1597.3" y1="1668.3" x2="1657.5" y2="1668.3" stroke="#241de4"/>
<line x1="1527.3" y1="1654.0" x2="1597.3" y2="1654.0" stroke="#241de4"/>
<line x1="1470.1" y1="1638.6" x2="1527.3" y2="1638.6" stroke="#241de4"/>
<line x1="1406.8" y1="1607.7" x2="1470.1" y2="1607.7" stroke="#241de4"/>
<line x1="1381.5" y1="1562.8" x2="1406.8" y2="1562.8" stroke="#241de4"/>
<line x1="1353.2" y1="1527.4" x2="1381.5" y2="1527.4" stroke="#241de4"/>
<line x1="1464.2" y1="1705.2" x2="1785.7" y2="1705.2" stroke="#000051"/>
<line x1="1605.5" y1="1716.2" x2="1885.3" y2="1716.2" stroke="#241de4"/>
<line x1="1741.0" y1="1727.1" x2="1879.1" y2="1727.1" stroke="#000051"/>
<line x1="1808.8" y1="1738.0" x2="1930.1" y2="1738.0" stroke="#241de4"/>
<line x1="1808.8" y1="1749.0" x2="1895.3" y2="1749.0" stroke="#2a6aaf"/>
<line x1="1762.7" y1="1743.5" x2="1808.8" y2="1743.5" stroke="#241de4"/>
<line x1="1798.2" y1="1759.9" x2="1913.1" y2="1759.9" stroke="#2a6aaf"/>
<line x1="1798.2" y1="1770.9" x2="1879.1" y2="1770.9" stroke="#000051"/>
<line x1="1762.7" y1="1765.4" x2="1798.2" y2="1765.4" stroke="#2a6aaf"/>
<line x1="1741.0" y1="1754.5" x2="1762.7" y2="1754.5" stroke="#241de4"/>
<line x1="1605.5" y1="1740.8" x2="1741.0" y2="1740.8" stroke="#241de4"/>
<line x1="1498.3" y1="1728.5" x2="1605.5" y2="1728.5" stroke="#241de4"/>
<line x1="1528.0" y1="1781.8" x2="1791.1" y2="1781.8" stroke="#241de4"/>
<line x1="1610.0" y1="1792.7" x2="1786.5" y2="1792.7" stroke="#2a6aaf"/>
<line x1="1610.0" y1="1803.7" x2="1784.9" y2="1803.7" stroke="#2a6aaf"/>
<line x1="1547.0" y1="1798.2" x2="1610.0" y2="1798.2" stroke="#2a6aaf"/>
<line x1="1661.1" y1="1814.6" x2="1781.8" y2="1814.6" stroke="#810003"/>
<line x1="1736.7" y1="1825.5" x2="1801.5" y2="1825.5" stroke="#2a6aaf"/>
<line x1="1736.7" y1="1836.5" x2="1781.8" y2="1836.5" stroke="#2a6aaf"/>
<line x1="1661.1" y1="1831.0" x2="1736.7" y2="1831.0" stroke="#2a6aaf"/>
<line x1="1547.0" y1="1822.8" x2="1661.1" y2="1822.8" stroke="#2a6aaf"/>
<line x1="1528.0" y1="1810.5" x2="1547.0" y2="1810.5" stroke="#241de4"/>
<line x1="1498.3" y1="1796.1" x2="1528.0" y2="1796.1" stroke="#241de4"/>
<line x1="1464.2" y1="1762.3" x2="1498.3" y2="1762.3" stroke="#241de4"/>
<line x1="1405.6" y1="1733.8" x2="1464.2" y2="1733.8" stroke="#241de4"/>
<line x1="1721.4" y1="1847.4" x2="1791.1" y2="1847.4" stroke="#2a6aaf"/>
<line x1="1721.4" y1="1858.3" x2="1791.1" y2="1858.3" stroke="#2a6aaf"/>
<line x1="1490.6" y1="1852.9" x2="1721.4" y2="1852.9" stroke="#2a6aaf"/>
<line x1="1549.7" y1="1869.3" x2="1630.3" y2="1869.3" stroke="#e5470f"/>
<line x1="1856.1" y1="1880.2" x2="1896.9" y2="1880.2" stroke="#2a6aaf"/>
<line x1="1856.1" y1="1891.1" x2="1879.9" y2="1891.1" stroke="#2a6aaf"/>
<line x1="1681.2" y1="1885.7" x2="1856.1" y2="1885.7" stroke="#2a6aaf"/>
<line x1="1791.3" y1="1902.1" x2="1893.8" y2="1902.1" stroke="#241de4"/>
<line x1="1791.3" y1="1913.0" x2="1885.3" y2="1913.0" stroke="#241de4"/>
<line x1="1681.2" y1="1907.5" x2="1791.3" y2="1907.5" stroke="#241de4"/>
<line x1="1549.7" y1="1896.6" x2="1681.2" y2="1896.6" stroke="#241de4"/>
<line x1="1490.6" y1="1882.9" x2="1549.7" y2="1882.9" stroke="#241de4"/>
<line x1="1423.7" y1="1867.9" x2="1490.6" y2="1867.9" stroke="#241de4"/>
<line x1="1719.6" y1="1923.9" x2="1783.2" y2="1923.9" stroke="#24840d"/>
<line x1="1719.6" y1="1934.9" x2="1766.3" y2="1934.9" stroke="#000051"/>
<line x1="1455.2" y1="1929.4" x2="1719.6" y2="1929.4" stroke="#241de4"/>
<line x1="1688.4" y1="1945.8" x2="1789.3" y2="1945.8" stroke="#000051"/>
<line x1="1688.4" y1="1956.8" x2="1785.1" y2="1956.8" stroke="#000051"/>
<line x1="1596.3" y1="1951.3" x2="1688.4" y2="1951.3" stroke="#000051"/>
<line x1="1661.2" y1="1967.7" x2="1811.3" y2="1967.7" stroke="#2a6aaf"/>
<line x1="1661.2" y1="1978.6" x2="1784.0" y2="1978.6" stroke="#2a6aaf"/>
<line x1="1596.3" y1="1973.2" x2="1661.2" y2="1973.2" stroke="#2a6aaf"/>
<line x1="1557.3" y1="1962.2" x2="1596.3" y2="1962.2" stroke="#241de4"/>
<line x1="1736.8" y1="1989.6" x2="1788.2" y2="1989.6" stroke="#2a6aaf"/>
<line x1="1736.8" y1="2000.5" x2="1790.3" y2="2000.5" stroke="#2a6aaf"/>
<line x1="1657.7" y1="1995.0" x2="1736.8" y2="1995.0" stroke="#2a6aaf"/>
<line x1="1702.1" y1="2011.4" x2="1785.1" y2="2011.4" stroke="#810003"/>
<line x1="1717.9" y1="2022.4" x2="1781.9" y2="2022.4" stroke="#2a6aaf"/>
<line x1="1736.8" y1="2033.3" x2="1849.2" y2="2033.3" stroke="#2a6aaf"/>
<line x1="1768.0" y1="2044.2" x2="1790.3" y2="2044.2" stroke="#2a6aaf"/>
<line x1="1768.0" y1="2055.2" x2="1786.1" y2="2055.2" stroke="#2a6aaf"/>
<line x1="1736.8" y1="2049.7" x2="1768.0" y2="2049.7" stroke="#2a6aaf"/>
<line x1="1717.9" y1="2041.5" x2="1736.8" y2="2041.5" stroke="#2a6aaf"/>
<line x1="1702.1" y1="2031.9" x2="1717.9" y2="2031.9" stroke="#2a6aaf"/>
<line x1="1657.7" y1="2021.7" x2="1702.1" y2="2021.7" stroke="#2a6aaf"/>
<line x1="1557.3" y1="2008.3" x2="1657.7" y2="2008.3" stroke="#2a6aaf"/>
<line x1="1455.2" y1="1985.3" x2="1557.3" y2="1985.3" stroke="#241de4"/>
<line x1="1423.7" y1="1957.3" x2="1455.2" y2="1957.3" stroke="#241de4"/>
<line x1="1405.6" y1="1912.6" x2="1423.7" y2="1912.6" stroke="#241de4"/>
<line x1="1353.2" y1="1823.2" x2="1405.6" y2="1823.2" stroke="#241de4"/>
<line x1="1321.7" y1="1675.3" x2="1353.2" y2="1675.3" stroke="#241de4"/>
<line x1="1259.6" y1="1572.7" x2="1321.7" y2="1572.7" stroke="#241de4"/>
<line x1="910.0" y1="1513.2" x2="1259.6" y2="1513.2" stroke="#241de4"/>
<line x1="883.1" y1="1357.6" x2="910.0" y2="1357.6" stroke="#241de4"/>
<line x1="445.6" y1="1127.7" x2="883.1" y2="1127.7" stroke="#241de4"/>
<line x1="381.9" y1="965.4" x2="445.6" y2="965.4" stroke="#241de4"/>
<line x1="356.6" y1="780.4" x2="381.9" y2="780.4" stroke="#241de4"/>
<line x1="324.5" y1="602.8" x2="356.6" y2="602.8" stroke="#241de4"/>
<line x1="279.0" y1="464.3" x2="324.5" y2="464.3" stroke="#241de4"/>
<line x1="238.0" y1="356.3" x2="279.0" y2="356.3" stroke="#241de4"/>
</g>
<g stroke-width="1.4" stroke-linecap="square" fill="none">
<line x1="705.0" y1="108.7" x2="705.0" y2="119.7" stroke="#1e1673"/>
<line x1="1730.3" y1="152.5" x2="1730.3" y2="163.4" stroke="#9e1620"/>
<line x1="1447.9" y1="141.5" x2="1447.9" y2="157.9" stroke="#3f38ff"/>
<line x1="1658.0" y1="185.3" x2="1658.0" y2="196.2" stroke="#3f38ff"/>
<line x1="1745.0" y1="218.1" x2="1745.0" y2="229.0" stroke="#3f7fc4"/>
<line x1="1693.3" y1="207.2" x2="1693.3" y2="223.6" stroke="#3f7fc4"/>
<line x1="1552.9" y1="190.7" x2="1552.9" y2="215.4" stroke="#3f38ff"/>
<line x1="1217.6" y1="174.3" x2="1217.6" y2="203.0" stroke="#3f38ff"/>
<line x1="1120.0" y1="149.7" x2="1120.0" y2="188.7" stroke="#3f38ff"/>
<line x1="866.0" y1="130.6" x2="866.0" y2="169.2" stroke="#3f38ff"/>
<line x1="658.5" y1="114.2" x2="658.5" y2="149.9" stroke="#3f38ff"/>
<line x1="570.0" y1="97.8" x2="570.0" y2="132.1" stroke="#3f38ff"/>
<line x1="705.0" y1="250.9" x2="705.0" y2="261.8" stroke="#3f7fc4"/>
<line x1="553.6" y1="240.0" x2="553.6" y2="256.4" stroke="#3f7fc4"/>
<line x1="815.9" y1="272.8" x2="815.9" y2="283.7" stroke="#1e1673"/>
<line x1="878.9" y1="294.6" x2="878.9" y2="305.6" stroke="#1e1673"/>
<line x1="810.5" y1="316.5" x2="810.5" y2="327.4" stroke="#1e1673"/>
<line x1="801.1" y1="300.1" x2="801.1" y2="322.0" stroke="#1e1673"/>
<line x1="775.5" y1="278.2" x2="775.5" y2="311.0" stroke="#1e1673"/>
<line x1="956.1" y1="338.4" x2="956.1" y2="349.3" stroke="#1e1673"/>
<line x1="1003.4" y1="393.0" x2="1003.4" y2="404.0" stroke="#1e1673"/>
<line x1="956.1" y1="382.1" x2="956.1" y2="398.5" stroke="#1e1673"/>
<line x1="883.6" y1="371.2" x2="883.6" y2="390.3" stroke="#1e1673"/>
<line x1="842.7" y1="360.2" x2="842.7" y2="380.7" stroke="#1e1673"/>
<line x1="798.5" y1="343.8" x2="798.5" y2="370.5" stroke="#1e1673"/>
<line x1="741.8" y1="294.6" x2="741.8" y2="357.2" stroke="#1e1673"/>
<line x1="778.0" y1="447.7" x2="778.0" y2="458.7" stroke="#3a9a23"/>
<line x1="739.0" y1="436.8" x2="739.0" y2="453.2" stroke="#3a9a23"/>
<line x1="712.1" y1="425.9" x2="712.1" y2="445.0" stroke="#3a9a23"/>
<line x1="655.4" y1="414.9" x2="655.4" y2="435.4" stroke="#3f38ff"/>
<line x1="672.7" y1="491.5" x2="672.7" y2="502.4" stroke="#3f38ff"/>
<line x1="623.9" y1="480.5" x2="623.9" y2="496.9" stroke="#3f38ff"/>
<line x1="579.8" y1="469.6" x2="579.8" y2="488.7" stroke="#3f38ff"/>
<line x1="583.9" y1="513.3" x2="583.9" y2="524.3" stroke="#3f38ff"/>
<line x1="784.0" y1="535.2" x2="784.0" y2="546.1" stroke="#3f38ff"/>
<line x1="779.2" y1="557.1" x2="779.2" y2="568.0" stroke="#3f38ff"/>
<line x1="954.1" y1="578.9" x2="954.1" y2="589.9" stroke="#3a9a23"/>
<line x1="975.0" y1="611.7" x2="975.0" y2="622.7" stroke="#1e1673"/>
<line x1="913.2" y1="600.8" x2="913.2" y2="617.2" stroke="#3f38ff"/>
<line x1="807.6" y1="584.4" x2="807.6" y2="609.0" stroke="#3f38ff"/>
<line x1="766.6" y1="562.5" x2="766.6" y2="596.7" stroke="#3f38ff"/>
<line x1="737.3" y1="540.7" x2="737.3" y2="579.6" stroke="#3f38ff"/>
<line x1="496.2" y1="518.8" x2="496.2" y2="560.1" stroke="#3f38ff"/>
<line x1="467.9" y1="479.2" x2="467.9" y2="539.5" stroke="#3f38ff"/>
<line x1="710.0" y1="655.5" x2="710.0" y2="666.4" stroke="#3f38ff"/>
<line x1="698.7" y1="644.5" x2="698.7" y2="661.0" stroke="#3f38ff"/>
<line x1="678.2" y1="633.6" x2="678.2" y2="652.8" stroke="#3f38ff"/>
<line x1="670.3" y1="677.4" x2="670.3" y2="688.3" stroke="#3f38ff"/>
<line x1="630.9" y1="699.2" x2="630.9" y2="710.2" stroke="#3f38ff"/>
<line x1="597.8" y1="682.8" x2="597.8" y2="704.7" stroke="#3f38ff"/>
<line x1="760.9" y1="732.0" x2="760.9" y2="743.0" stroke="#3f38ff"/>
<line x1="700.3" y1="721.1" x2="700.3" y2="737.5" stroke="#3f38ff"/>
<line x1="770.0" y1="775.8" x2="770.0" y2="786.7" stroke="#3f7fc4"/>
<line x1="757.0" y1="764.8" x2="757.0" y2="781.2" stroke="#3f7fc4"/>
<line x1="728.6" y1="753.9" x2="728.6" y2="773.0" stroke="#3f7fc4"/>
<line x1="580.5" y1="729.3" x2="580.5" y2="763.5" stroke="#3f38ff"/>
<line x1="544.2" y1="693.8" x2="544.2" y2="746.4" stroke="#3f38ff"/>
<line x1="454.4" y1="643.2" x2="454.4" y2="720.1" stroke="#3f38ff"/>
<line x1="403.4" y1="509.3" x2="403.4" y2="681.6" stroke="#3f38ff"/>
<line x1="629.3" y1="797.6" x2="629.3" y2="808.6" stroke="#3f38ff"/>
<line x1="1515.0" y1="819.5" x2="1515.0" y2="830.4" stroke="#3f38ff"/>
<line x1="1489.8" y1="841.4" x2="1489.8" y2="852.3" stroke="#9e1620"/>
<line x1="1587.5" y1="874.2" x2="1587.5" y2="885.1" stroke="#9e1620"/>
<line x1="1548.8" y1="863.2" x2="1548.8" y2="879.7" stroke="#9e1620"/>
<line x1="1437.8" y1="846.8" x2="1437.8" y2="871.5" stroke="#9e1620"/>
<line x1="1137.4" y1="825.0" x2="1137.4" y2="859.1" stroke="#3f38ff"/>
<line x1="1656.9" y1="907.0" x2="1656.9" y2="917.9" stroke="#3f38ff"/>
<line x1="1769.6" y1="939.8" x2="1769.6" y2="950.7" stroke="#1e1673"/>
<line x1="1727.8" y1="961.7" x2="1727.8" y2="972.6" stroke="#1e1673"/>
<line x1="1636.4" y1="945.3" x2="1636.4" y2="967.1" stroke="#3f38ff"/>
<line x1="1620.0" y1="928.9" x2="1620.0" y2="956.2" stroke="#3f38ff"/>
<line x1="1578.0" y1="912.5" x2="1578.0" y2="942.5" stroke="#3f38ff"/>
<line x1="1528.6" y1="896.1" x2="1528.6" y2="927.5" stroke="#3f38ff"/>
<line x1="1649.0" y1="1016.3" x2="1649.0" y2="1027.3" stroke="#3f38ff"/>
<line x1="1772.0" y1="1049.1" x2="1772.0" y2="1060.1" stroke="#1e1673"/>
<line x1="1695.4" y1="1038.2" x2="1695.4" y2="1054.6" stroke="#3f38ff"/>
<line x1="1616.8" y1="1021.8" x2="1616.8" y2="1046.4" stroke="#3f38ff"/>
<line x1="1591.6" y1="1005.4" x2="1591.6" y2="1034.1" stroke="#3f38ff"/>
<line x1="1544.3" y1="994.5" x2="1544.3" y2="1019.8" stroke="#3f38ff"/>
<line x1="1481.3" y1="983.5" x2="1481.3" y2="1007.1" stroke="#3f38ff"/>
<line x1="1453.6" y1="911.8" x2="1453.6" y2="995.3" stroke="#3f38ff"/>
<line x1="1003.5" y1="842.1" x2="1003.5" y2="953.5" stroke="#3f38ff"/>
<line x1="1673.6" y1="1092.9" x2="1673.6" y2="1103.8" stroke="#3a9a23"/>
<line x1="1575.9" y1="1082.0" x2="1575.9" y2="1098.4" stroke="#3a9a23"/>
<line x1="1518.2" y1="1071.0" x2="1518.2" y2="1090.2" stroke="#3a9a23"/>
<line x1="1083.5" y1="1114.8" x2="1083.5" y2="1125.7" stroke="#3f38ff"/>
<line x1="1505.8" y1="1169.4" x2="1505.8" y2="1180.4" stroke="#3f7fc4"/>
<line x1="1433.3" y1="1158.5" x2="1433.3" y2="1174.9" stroke="#3f7fc4"/>
<line x1="1550.9" y1="1202.2" x2="1550.9" y2="1213.2" stroke="#3f7fc4"/>
<line x1="1431.1" y1="1191.3" x2="1431.1" y2="1207.7" stroke="#3f7fc4"/>
<line x1="1381.3" y1="1166.7" x2="1381.3" y2="1199.5" stroke="#3f7fc4"/>
<line x1="1326.2" y1="1147.6" x2="1326.2" y2="1183.1" stroke="#3f7fc4"/>
<line x1="1059.9" y1="1136.6" x2="1059.9" y2="1165.3" stroke="#3f38ff"/>
<line x1="1017.7" y1="1120.2" x2="1017.7" y2="1151.0" stroke="#3f38ff"/>
<line x1="978.3" y1="1080.6" x2="978.3" y2="1135.6" stroke="#3f38ff"/>
<line x1="1747.4" y1="1235.0" x2="1747.4" y2="1246.0" stroke="#3a9a23"/>
<line x1="1706.0" y1="1224.1" x2="1706.0" y2="1240.5" stroke="#3f38ff"/>
<line x1="1935.0" y1="1278.8" x2="1935.0" y2="1289.7" stroke="#9e1620"/>
<line x1="1652.8" y1="1267.8" x2="1652.8" y2="1284.2" stroke="#3f38ff"/>
<line x1="1632.7" y1="1256.9" x2="1632.7" y2="1276.0" stroke="#3f38ff"/>
<line x1="1594.1" y1="1232.3" x2="1594.1" y2="1266.5" stroke="#3f38ff"/>
<line x1="1665.8" y1="1311.6" x2="1665.8" y2="1322.5" stroke="#1e1673"/>
<line x1="1589.3" y1="1333.5" x2="1589.3" y2="1344.4" stroke="#9e1620"/>
<line x1="1499.5" y1="1317.1" x2="1499.5" y2="1338.9" stroke="#1e1673"/>
<line x1="1447.5" y1="1300.7" x2="1447.5" y2="1328.0" stroke="#1e1673"/>
<line x1="1770.0" y1="1388.1" x2="1770.0" y2="1399.1" stroke="#3a9a23"/>
<line x1="1671.7" y1="1377.2" x2="1671.7" y2="1393.6" stroke="#3a9a23"/>
<line x1="1752.1" y1="1431.9" x2="1752.1" y2="1442.8" stroke="#3a9a23"/>
<line x1="1717.3" y1="1420.9" x2="1717.3" y2="1437.3" stroke="#3a9a23"/>
<line x1="1680.0" y1="1410.0" x2="1680.0" y2="1429.1" stroke="#3a9a23"/>
<line x1="1573.6" y1="1385.4" x2="1573.6" y2="1419.6" stroke="#3a9a23"/>
<line x1="1404.0" y1="1366.3" x2="1404.0" y2="1402.5" stroke="#3f38ff"/>
<line x1="1374.4" y1="1355.3" x2="1374.4" y2="1384.4" stroke="#3f38ff"/>
<line x1="1348.3" y1="1314.3" x2="1348.3" y2="1369.8" stroke="#3f38ff"/>
<line x1="1217.5" y1="1249.4" x2="1217.5" y2="1342.1" stroke="#3f38ff"/>
<line x1="934.5" y1="1108.1" x2="934.5" y2="1295.7" stroke="#3f38ff"/>
<line x1="1761.5" y1="1464.7" x2="1761.5" y2="1475.6" stroke="#1e1673"/>
<line x1="1584.1" y1="1486.5" x2="1584.1" y2="1497.5" stroke="#3f38ff"/>
<line x1="1688.3" y1="1530.3" x2="1688.3" y2="1541.2" stroke="#3f38ff"/>
<line x1="1633.9" y1="1519.3" x2="1633.9" y2="1535.8" stroke="#3f38ff"/>
<line x1="1434.7" y1="1508.4" x2="1434.7" y2="1527.6" stroke="#3f38ff"/>
<line x1="1768.0" y1="1563.1" x2="1768.0" y2="1574.0" stroke="#1e1673"/>
<line x1="1747.4" y1="1552.2" x2="1747.4" y2="1568.6" stroke="#1e1673"/>
<line x1="1769.6" y1="1595.9" x2="1769.6" y2="1606.8" stroke="#1e1673"/>
<line x1="1734.4" y1="1585.0" x2="1734.4" y2="1601.4" stroke="#1e1673"/>
<line x1="1680.0" y1="1560.4" x2="1680.0" y2="1593.2" stroke="#1e1673"/>
<line x1="1717.8" y1="1617.8" x2="1717.8" y2="1628.7" stroke="#9e1620"/>
<line x1="1695.4" y1="1650.6" x2="1695.4" y2="1661.5" stroke="#3f38ff"/>
<line x1="1785.0" y1="1683.4" x2="1785.0" y2="1694.3" stroke="#3f7fc4"/>
<line x1="1737.8" y1="1672.4" x2="1737.8" y2="1688.8" stroke="#3f38ff"/>
<line x1="1657.5" y1="1656.0" x2="1657.5" y2="1680.6" stroke="#3f38ff"/>
<line x1="1597.3" y1="1639.6" x2="1597.3" y2="1668.3" stroke="#3f38ff"/>
<line x1="1527.3" y1="1623.2" x2="1527.3" y2="1654.0" stroke="#3f38ff"/>
<line x1="1470.1" y1="1576.8" x2="1470.1" y2="1638.6" stroke="#3f38ff"/>
<line x1="1406.8" y1="1518.0" x2="1406.8" y2="1607.7" stroke="#3f38ff"/>
<line x1="1381.5" y1="1492.0" x2="1381.5" y2="1562.8" stroke="#3f38ff"/>
<line x1="1808.8" y1="1738.0" x2="1808.8" y2="1749.0" stroke="#3f38ff"/>
<line x1="1798.2" y1="1759.9" x2="1798.2" y2="1770.9" stroke="#3f7fc4"/>
<line x1="1762.7" y1="1743.5" x2="1762.7" y2="1765.4" stroke="#3f38ff"/>
<line x1="1741.0" y1="1727.1" x2="1741.0" y2="1754.5" stroke="#3f38ff"/>
<line x1="1605.5" y1="1716.2" x2="1605.5" y2="1740.8" stroke="#3f38ff"/>
<line x1="1610.0" y1="1792.7" x2="1610.0" y2="1803.7" stroke="#3f7fc4"/>
<line x1="1736.7" y1="1825.5" x2="1736.7" y2="1836.5" stroke="#3f7fc4"/>
<line x1="1661.1" y1="1814.6" x2="1661.1" y2="1831.0" stroke="#3f7fc4"/>
<line x1="1547.0" y1="1798.2" x2="1547.0" y2="1822.8" stroke="#3f38ff"/>
<line x1="1528.0" y1="1781.8" x2="1528.0" y2="1810.5" stroke="#3f38ff"/>
<line x1="1498.3" y1="1728.5" x2="1498.3" y2="1796.1" stroke="#3f38ff"/>
<line x1="1464.2" y1="1705.2" x2="1464.2" y2="1762.3" stroke="#3f38ff"/>
<line x1="1721.4" y1="1847.4" x2="1721.4" y2="1858.3" stroke="#3f7fc4"/>
<line x1="1856.1" y1="1880.2" x2="1856.1" y2="1891.1" stroke="#3f7fc4"/>
<line x1="1791.3" y1="1902.1" x2="1791.3" y2="1913.0" stroke="#3f38ff"/>
<line x1="1681.2" y1="1885.7" x2="1681.2" y2="1907.5" stroke="#3f38ff"/>
<line x1="1549.7" y1="1869.3" x2="1549.7" y2="1896.6" stroke="#3f38ff"/>
<line x1="1490.6" y1="1852.9" x2="1490.6" y2="1882.9" stroke="#3f38ff"/>
<line x1="1719.6" y1="1923.9" x2="1719.6" y2="1934.9" stroke="#3f38ff"/>
<line x1="1688.4" y1="1945.8" x2="1688.4" y2="1956.8" stroke="#1e1673"/>
<line x1="1661.2" y1="1967.7" x2="1661.2" y2="1978.6" stroke="#3f7fc4"/>
<line x1="1596.3" y1="1951.3" x2="1596.3" y2="1973.2" stroke="#3f38ff"/>
<line x1="1736.8" y1="1989.6" x2="1736.8" y2="2000.5" stroke="#3f7fc4"/>
<line x1="1768.0" y1="2044.2" x2="1768.0" y2="2055.2" stroke="#3f7fc4"/>
<line x1="1736.8" y1="2033.3" x2="1736.8" y2="2049.7" stroke="#3f7fc4"/>
<line x1="1717.9" y1="2022.4" x2="1717.9" y2="2041.5" stroke="#3f7fc4"/>
<line x1="1702.1" y1="2011.4" x2="1702.1" y2="2031.9" stroke="#3f7fc4"/>
<line x1="1657.7" y1="1995.0" x2="1657.7" y2="2021.7" stroke="#3f7fc4"/>
<line x1="1557.3" y1="1962.2" x2="1557.3" y2="2008.3" stroke="#3f38ff"/>
<line x1="1455.2" y1="1929.4" x2="1455.2" y2="1985.3" stroke="#3f38ff"/>
<line x1="1423.7" y1="1867.9" x2="1423.7" y2="1957.3" stroke="#3f38ff"/>
<line x1="1405.6" y1="1733.8" x2="1405.6" y2="1912.6" stroke="#3f38ff"/>
<line x1="1353.2" y1="1527.4" x2="1353.2" y2="1823.2" stroke="#3f38ff"/>
<line x1="1321.7" y1="1470.1" x2="1321.7" y2="1675.3" stroke="#3f38ff"/>
<line x1="1259.6" y1="1453.7" x2="1259.6" y2="1572.7" stroke="#3f38ff"/>
<line x1="910.0" y1="1201.9" x2="910.0" y2="1513.2" stroke="#3f38ff"/>
<line x1="883.1" y1="897.8" x2="883.1" y2="1357.6" stroke="#3f38ff"/>
<line x1="445.6" y1="803.1" x2="445.6" y2="1127.7" stroke="#3f38ff"/>
<line x1="381.9" y1="595.5" x2="381.9" y2="965.4" stroke="#3f38ff"/>
<line x1="356.6" y1="425.2" x2="356.6" y2="780.4" stroke="#3f38ff"/>
<line x1="324.5" y1="325.9" x2="324.5" y2="602.8" stroke="#3f38ff"/>
<line x1="279.0" y1="248.2" x2="279.0" y2="464.3" stroke="#3f38ff"/>
<line x1="238.0" y1="114.9" x2="238.0" y2="356.3" stroke="#3f38ff"/>
<line x1="570.0" y1="97.8" x2="705.5" y2="97.8" stroke="#3f38ff"/>
<line x1="705.0" y1="108.7" x2="708.7" y2="108.7" stroke="#1e1673"/>
<line x1="705.0" y1="119.7" x2="708.7" y2="119.7" stroke="#1e1673"/>
<line x1="658.5" y1="114.2" x2="705.0" y2="114.2" stroke="#1e1673"/>
<line x1="866.0" y1="130.6" x2="1016.0" y2="130.6" stroke="#3f38ff"/>
<line x1="1447.9" y1="141.5" x2="1798.3" y2="141.5" stroke="#3f7fc4"/>
<line x1="1730.3" y1="152.5" x2="1793.0" y2="152.5" stroke="#9e1620"/>
<line x1="1730.3" y1="163.4" x2="1763.9" y2="163.4" stroke="#9e1620"/>
<line x1="1447.9" y1="157.9" x2="1730.3" y2="157.9" stroke="#9e1620"/>
<line x1="1120.0" y1="149.7" x2="1447.9" y2="149.7" stroke="#3f38ff"/>
<line x1="1217.6" y1="174.3" x2="1784.0" y2="174.3" stroke="#3a9a23"/>
<line x1="1658.0" y1="185.3" x2="1809.2" y2="185.3" stroke="#1e1673"/>
<line x1="1658.0" y1="196.2" x2="1745.0" y2="196.2" stroke="#3f7fc4"/>
<line x1="1552.9" y1="190.7" x2="1658.0" y2="190.7" stroke="#3f38ff"/>
<line x1="1693.3" y1="207.2" x2="1781.5" y2="207.2" stroke="#3f7fc4"/>
<line x1="1745.0" y1="218.1" x2="1862.6" y2="218.1" stroke="#3f7fc4"/>
<line x1="1745.0" y1="229.0" x2="1760.5" y2="229.0" stroke="#3f7fc4"/>
<line x1="1693.3" y1="223.6" x2="1745.0" y2="223.6" stroke="#3f7fc4"/>
<line x1="1552.9" y1="215.4" x2="1693.3" y2="215.4" stroke="#3f7fc4"/>
<line x1="1217.6" y1="203.0" x2="1552.9" y2="203.0" stroke="#3f38ff"/>
<line x1="1120.0" y1="188.7" x2="1217.6" y2="188.7" stroke="#3f38ff"/>
<line x1="866.0" y1="169.2" x2="1120.0" y2="169.2" stroke="#3f38ff"/>
<line x1="658.5" y1="149.9" x2="866.0" y2="149.9" stroke="#3f38ff"/>
<line x1="570.0" y1="132.1" x2="658.5" y2="132.1" stroke="#3f38ff"/>
<line x1="238.0" y1="114.9" x2="570.0" y2="114.9" stroke="#3f38ff"/>
<line x1="553.6" y1="240.0" x2="746.5" y2="240.0" stroke="#1e1673"/>
<line x1="705.0" y1="250.9" x2="708.0" y2="250.9" stroke="#3f7fc4"/>
<line x1="705.0" y1="261.8" x2="708.0" y2="261.8" stroke="#3f7fc4"/>
<line x1="553.6" y1="256.4" x2="705.0" y2="256.4" stroke="#3f7fc4"/>
<line x1="279.0" y1="248.2" x2="553.6" y2="248.2" stroke="#3f7fc4"/>
<line x1="815.9" y1="272.8" x2="980.7" y2="272.8" stroke="#1e1673"/>
<line x1="815.9" y1="283.7" x2="904.1" y2="283.7" stroke="#1e1673"/>
<line x1="775.5" y1="278.2" x2="815.9" y2="278.2" stroke="#1e1673"/>
<line x1="878.9" y1="294.6" x2="1141.4" y2="294.6" stroke="#3a9a23"/>
<line x1="878.9" y1="305.6" x2="1039.0" y2="305.6" stroke="#1e1673"/>
<line x1="801.1" y1="300.1" x2="878.9" y2="300.1" stroke="#1e1673"/>
<line x1="810.5" y1="316.5" x2="1039.0" y2="316.5" stroke="#1e1673"/>
<line x1="810.5" y1="327.4" x2="920.8" y2="327.4" stroke="#1e1673"/>
<line x1="801.1" y1="322.0" x2="810.5" y2="322.0" stroke="#1e1673"/>
<line x1="775.5" y1="311.0" x2="801.1" y2="311.0" stroke="#1e1673"/>
<line x1="741.8" y1="294.6" x2="775.5" y2="294.6" stroke="#1e1673"/>
<line x1="956.1" y1="338.4" x2="1063.3" y2="338.4" stroke="#1e1673"/>
<line x1="956.1" y1="349.3" x2="1039.6" y2="349.3" stroke="#1e1673"/>
<line x1="798.5" y1="343.8" x2="956.1" y2="343.8" stroke="#1e1673"/>
<line x1="842.7" y1="360.2" x2="1016.0" y2="360.2" stroke="#1e1673"/>
<line x1="883.6" y1="371.2" x2="904.1" y2="371.2" stroke="#1e1673"/>
<line x1="956.1" y1="382.1" x2="1088.5" y2="382.1" stroke="#3f7fc4"/>
<line x1="1003.4" y1="393.0" x2="1712.5" y2="393.0" stroke="#1e1673"/>
<line x1="1003.4" y1="404.0" x2="1079.0" y2="404.0" stroke="#1e1673"/>
<line x1="956.1" y1="398.5" x2="1003.4" y2="398.5" stroke="#1e1673"/>
<line x1="883.6" y1="390.3" x2="956.1" y2="390.3" stroke="#1e1673"/>
<line x1="842.7" y1="380.7" x2="883.6" y2="380.7" stroke="#1e1673"/>
<line x1="798.5" y1="370.5" x2="842.7" y2="370.5" stroke="#1e1673"/>
<line x1="741.8" y1="357.2" x2="798.5" y2="357.2" stroke="#1e1673"/>
<line x1="324.5" y1="325.9" x2="741.8" y2="325.9" stroke="#1e1673"/>
<line x1="655.4" y1="414.9" x2="786.0" y2="414.9" stroke="#3a9a23"/>
<line x1="712.1" y1="425.9" x2="766.0" y2="425.9" stroke="#3a9a23"/>
<line x1="739.0" y1="436.8" x2="764.0" y2="436.8" stroke="#3a9a23"/>
<line x1="778.0" y1="447.7" x2="916.3" y2="447.7" stroke="#000000"/>
<line x1="778.0" y1="458.7" x2="764.0" y2="458.7" stroke="#3a9a23"/>
<line x1="739.0" y1="453.2" x2="778.0" y2="453.2" stroke="#3a9a23"/>
<line x1="712.1" y1="445.0" x2="739.0" y2="445.0" stroke="#3a9a23"/>
<line x1="655.4" y1="435.4" x2="712.1" y2="435.4" stroke="#3a9a23"/>
<line x1="356.6" y1="425.2" x2="655.4" y2="425.2" stroke="#3f38ff"/>
<line x1="579.8" y1="469.6" x2="709.0" y2="469.6" stroke="#1e1673"/>
<line x1="623.9" y1="480.5" x2="709.0" y2="480.5" stroke="#1e1673"/>
<line x1="672.7" y1="491.5" x2="756.5" y2="491.5" stroke="#000000"/>
<line x1="672.7" y1="502.4" x2="735.7" y2="502.4" stroke="#3f38ff"/>
<line x1="623.9" y1="496.9" x2="672.7" y2="496.9" stroke="#3f38ff"/>
<line x1="579.8" y1="488.7" x2="623.9" y2="488.7" stroke="#3f38ff"/>
<line x1="467.9" y1="479.2" x2="579.8" y2="479.2" stroke="#3f38ff"/>
<line x1="583.9" y1="513.3" x2="709.0" y2="513.3" stroke="#1e1673"/>
<line x1="583.9" y1="524.3" x2="709.0" y2="524.3" stroke="#1e1673"/>
<line x1="496.2" y1="518.8" x2="583.9" y2="518.8" stroke="#3f38ff"/>
<line x1="784.0" y1="535.2" x2="855.0" y2="535.2" stroke="#3f38ff"/>
<line x1="784.0" y1="546.1" x2="800.0" y2="546.1" stroke="#3f38ff"/>
<line x1="737.3" y1="540.7" x2="784.0" y2="540.7" stroke="#3f38ff"/>
<line x1="779.2" y1="557.1" x2="800.0" y2="557.1" stroke="#3f38ff"/>
<line x1="779.2" y1="568.0" x2="800.0" y2="568.0" stroke="#3f38ff"/>
<line x1="766.6" y1="562.5" x2="779.2" y2="562.5" stroke="#3f38ff"/>
<line x1="954.1" y1="578.9" x2="1051.8" y2="578.9" stroke="#3a9a23"/>
<line x1="954.1" y1="589.9" x2="1026.6" y2="589.9" stroke="#3a9a23"/>
<line x1="807.6" y1="584.4" x2="954.1" y2="584.4" stroke="#3a9a23"/>
<line x1="913.2" y1="600.8" x2="1156.8" y2="600.8" stroke="#3f38ff"/>
<line x1="975.0" y1="611.7" x2="1003.0" y2="611.7" stroke="#1e1673"/>
<line x1="975.0" y1="622.7" x2="990.4" y2="622.7" stroke="#1e1673"/>
<line x1="913.2" y1="617.2" x2="975.0" y2="617.2" stroke="#1e1673"/>
<line x1="807.6" y1="609.0" x2="913.2" y2="609.0" stroke="#3f38ff"/>
<line x1="766.6" y1="596.7" x2="807.6" y2="596.7" stroke="#3f38ff"/>
<line x1="737.3" y1="579.6" x2="766.6" y2="579.6" stroke="#3f38ff"/>
<line x1="496.2" y1="560.1" x2="737.3" y2="560.1" stroke="#3f38ff"/>
<line x1="467.9" y1="539.5" x2="496.2" y2="539.5" stroke="#3f38ff"/>
<line x1="403.4" y1="509.3" x2="467.9" y2="509.3" stroke="#3f38ff"/>
<line x1="678.2" y1="633.6" x2="739.6" y2="633.6" stroke="#3f38ff"/>
<line x1="698.7" y1="644.5" x2="722.0" y2="644.5" stroke="#3f38ff"/>
<line x1="710.0" y1="655.5" x2="722.0" y2="655.5" stroke="#3f38ff"/>
<line x1="710.0" y1="666.4" x2="724.0" y2="666.4" stroke="#3f38ff"/>
<line x1="698.7" y1="661.0" x2="710.0" y2="661.0" stroke="#3f38ff"/>
<line x1="678.2" y1="652.8" x2="698.7" y2="652.8" stroke="#3f38ff"/>
<line x1="454.4" y1="643.2" x2="678.2" y2="643.2" stroke="#3f38ff"/>
<line x1="670.3" y1="677.4" x2="855.3" y2="677.4" stroke="#3a9a23"/>
<line x1="670.3" y1="688.3" x2="708.1" y2="688.3" stroke="#1e1673"/>
<line x1="597.8" y1="682.8" x2="670.3" y2="682.8" stroke="#3f38ff"/>
<line x1="630.9" y1="699.2" x2="783.8" y2="699.2" stroke="#1e1673"/>
<line x1="630.9" y1="710.2" x2="746.0" y2="710.2" stroke="#9e1620"/>
<line x1="597.8" y1="704.7" x2="630.9" y2="704.7" stroke="#3f38ff"/>
<line x1="544.2" y1="693.8" x2="597.8" y2="693.8" stroke="#3f38ff"/>
<line x1="700.3" y1="721.1" x2="767.5" y2="721.1" stroke="#3f38ff"/>
<line x1="760.9" y1="732.0" x2="780.7" y2="732.0" stroke="#3f38ff"/>
<line x1="760.9" y1="743.0" x2="782.2" y2="743.0" stroke="#3f38ff"/>
<line x1="700.3" y1="737.5" x2="760.9" y2="737.5" stroke="#3f38ff"/>
<line x1="580.5" y1="729.3" x2="700.3" y2="729.3" stroke="#3f38ff"/>
<line x1="728.6" y1="753.9" x2="782.2" y2="753.9" stroke="#3f7fc4"/>
<line x1="757.0" y1="764.8" x2="782.0" y2="764.8" stroke="#3f7fc4"/>
<line x1="770.0" y1="775.8" x2="782.0" y2="775.8" stroke="#3f7fc4"/>
<line x1="770.0" y1="786.7" x2="782.0" y2="786.7" stroke="#3f7fc4"/>
<line x1="757.0" y1="781.2" x2="770.0" y2="781.2" stroke="#3f7fc4"/>
<line x1="728.6" y1="773.0" x2="757.0" y2="773.0" stroke="#3f7fc4"/>
<line x1="580.5" y1="763.5" x2="728.6" y2="763.5" stroke="#3f7fc4"/>
<line x1="544.2" y1="746.4" x2="580.5" y2="746.4" stroke="#3f38ff"/>
<line x1="454.4" y1="720.1" x2="544.2" y2="720.1" stroke="#3f38ff"/>
<line x1="403.4" y1="681.6" x2="454.4" y2="681.6" stroke="#3f38ff"/>
<line x1="381.9" y1="595.5" x2="403.4" y2="595.5" stroke="#3f38ff"/>
<line x1="629.3" y1="797.6" x2="728.6" y2="797.6" stroke="#3f7fc4"/>
<line x1="629.3" y1="808.6" x2="717.6" y2="808.6" stroke="#3f38ff"/>
<line x1="445.6" y1="803.1" x2="629.3" y2="803.1" stroke="#3f38ff"/>
<line x1="1515.0" y1="819.5" x2="1795.0" y2="819.5" stroke="#3f38ff"/>
<line x1="1515.0" y1="830.4" x2="1717.0" y2="830.4" stroke="#3f38ff"/>
<line x1="1137.4" y1="825.0" x2="1515.0" y2="825.0" stroke="#3f38ff"/>
<line x1="1489.8" y1="841.4" x2="1809.0" y2="841.4" stroke="#eedf3c"/>
<line x1="1489.8" y1="852.3" x2="1790.4" y2="852.3" stroke="#9e1620"/>
<line x1="1437.8" y1="846.8" x2="1489.8" y2="846.8" stroke="#9e1620"/>
<line x1="1548.8" y1="863.2" x2="1761.9" y2="863.2" stroke="#9e1620"/>
<line x1="1587.5" y1="874.2" x2="1807.4" y2="874.2" stroke="#9e1620"/>
<line x1="1587.5" y1="885.1" x2="1795.0" y2="885.1" stroke="#3a9a23"/>
<line x1="1548.8" y1="879.7" x2="1587.5" y2="879.7" stroke="#9e1620"/>
<line x1="1437.8" y1="871.5" x2="1548.8" y2="871.5" stroke="#9e1620"/>
<line x1="1137.4" y1="859.1" x2="1437.8" y2="859.1" stroke="#9e1620"/>
<line x1="1003.5" y1="842.1" x2="1137.4" y2="842.1" stroke="#3f38ff"/>
<line x1="1528.6" y1="896.1" x2="1783.5" y2="896.1" stroke="#1e1673"/>
<line x1="1656.9" y1="907.0" x2="1809.7" y2="907.0" stroke="#3a9a23"/>
<line x1="1656.9" y1="917.9" x2="1788.0" y2="917.9" stroke="#3f7fc4"/>
<line x1="1578.0" y1="912.5" x2="1656.9" y2="912.5" stroke="#3f38ff"/>
<line x1="1620.0" y1="928.9" x2="1797.4" y2="928.9" stroke="#3f38ff"/>
<line x1="1769.6" y1="939.8" x2="1797.0" y2="939.8" stroke="#1e1673"/>
<line x1="1769.6" y1="950.7" x2="1794.0" y2="950.7" stroke="#1e1673"/>
<line x1="1636.4" y1="945.3" x2="1769.6" y2="945.3" stroke="#1e1673"/>
<line x1="1727.8" y1="961.7" x2="1774.0" y2="961.7" stroke="#1e1673"/>
<line x1="1727.8" y1="972.6" x2="1774.0" y2="972.6" stroke="#1e1673"/>
<line x1="1636.4" y1="967.1" x2="1727.8" y2="967.1" stroke="#1e1673"/>
<line x1="1620.0" y1="956.2" x2="1636.4" y2="956.2" stroke="#3f38ff"/>
<line x1="1578.0" y1="942.5" x2="1620.0" y2="942.5" stroke="#3f38ff"/>
<line x1="1528.6" y1="927.5" x2="1578.0" y2="927.5" stroke="#3f38ff"/>
<line x1="1453.6" y1="911.8" x2="1528.6" y2="911.8" stroke="#3f38ff"/>
<line x1="1481.3" y1="983.5" x2="1784.0" y2="983.5" stroke="#1e1673"/>
<line x1="1544.3" y1="994.5" x2="1799.0" y2="994.5" stroke="#1e1673"/>
<line x1="1591.6" y1="1005.4" x2="1786.6" y2="1005.4" stroke="#3a9a23"/>
<line x1="1649.0" y1="1016.3" x2="1802.0" y2="1016.3" stroke="#3f38ff"/>
<line x1="1649.0" y1="1027.3" x2="1783.5" y2="1027.3" stroke="#9e1620"/>
<line x1="1616.8" y1="1021.8" x2="1649.0" y2="1021.8" stroke="#3f38ff"/>
<line x1="1695.4" y1="1038.2" x2="1785.0" y2="1038.2" stroke="#3a9a23"/>
<line x1="1772.0" y1="1049.1" x2="1791.0" y2="1049.1" stroke="#1e1673"/>
<line x1="1772.0" y1="1060.1" x2="1791.0" y2="1060.1" stroke="#1e1673"/>
<line x1="1695.4" y1="1054.6" x2="1772.0" y2="1054.6" stroke="#1e1673"/>
<line x1="1616.8" y1="1046.4" x2="1695.4" y2="1046.4" stroke="#3f38ff"/>
<line x1="1591.6" y1="1034.1" x2="1616.8" y2="1034.1" stroke="#3f38ff"/>
<line x1="1544.3" y1="1019.8" x2="1591.6" y2="1019.8" stroke="#3f38ff"/>
<line x1="1481.3" y1="1007.1" x2="1544.3" y2="1007.1" stroke="#3f38ff"/>
<line x1="1453.6" y1="995.3" x2="1481.3" y2="995.3" stroke="#3f38ff"/>
<line x1="1003.5" y1="953.5" x2="1453.6" y2="953.5" stroke="#3f38ff"/>
<line x1="883.1" y1="897.8" x2="1003.5" y2="897.8" stroke="#3f38ff"/>
<line x1="1518.2" y1="1071.0" x2="1797.4" y2="1071.0" stroke="#f85a22"/>
<line x1="1575.9" y1="1082.0" x2="1748.0" y2="1082.0" stroke="#3a9a23"/>
<line x1="1673.6" y1="1092.9" x2="1811.3" y2="1092.9" stroke="#eedf3c"/>
<line x1="1673.6" y1="1103.8" x2="1783.5" y2="1103.8" stroke="#3a9a23"/>
<line x1="1575.9" y1="1098.4" x2="1673.6" y2="1098.4" stroke="#3a9a23"/>
<line x1="1518.2" y1="1090.2" x2="1575.9" y2="1090.2" stroke="#3a9a23"/>
<line x1="978.3" y1="1080.6" x2="1518.2" y2="1080.6" stroke="#3a9a23"/>
<line x1="1083.5" y1="1114.8" x2="1183.7" y2="1114.8" stroke="#3f7fc4"/>
<line x1="1083.5" y1="1125.7" x2="1183.7" y2="1125.7" stroke="#3f38ff"/>
<line x1="1017.7" y1="1120.2" x2="1083.5" y2="1120.2" stroke="#3f38ff"/>
<line x1="1059.9" y1="1136.6" x2="1207.8" y2="1136.6" stroke="#3f38ff"/>
<line x1="1326.2" y1="1147.6" x2="1800.5" y2="1147.6" stroke="#3f7fc4"/>
<line x1="1433.3" y1="1158.5" x2="1714.7" y2="1158.5" stroke="#3f7fc4"/>
<line x1="1505.8" y1="1169.4" x2="1804.8" y2="1169.4" stroke="#c4c4c4"/>
<line x1="1505.8" y1="1180.4" x2="1746.2" y2="1180.4" stroke="#3f7fc4"/>
<line x1="1433.3" y1="1174.9" x2="1505.8" y2="1174.9" stroke="#3f7fc4"/>
<line x1="1381.3" y1="1166.7" x2="1433.3" y2="1166.7" stroke="#3f7fc4"/>
<line x1="1431.1" y1="1191.3" x2="1791.0" y2="1191.3" stroke="#c4c4c4"/>
<line x1="1550.9" y1="1202.2" x2="1746.2" y2="1202.2" stroke="#3f7fc4"/>
<line x1="1550.9" y1="1213.2" x2="1602.5" y2="1213.2" stroke="#1e1673"/>
<line x1="1431.1" y1="1207.7" x2="1550.9" y2="1207.7" stroke="#3f7fc4"/>
<line x1="1381.3" y1="1199.5" x2="1431.1" y2="1199.5" stroke="#3f7fc4"/>
<line x1="1326.2" y1="1183.1" x2="1381.3" y2="1183.1" stroke="#3f7fc4"/>
<line x1="1059.9" y1="1165.3" x2="1326.2" y2="1165.3" stroke="#3f7fc4"/>
<line x1="1017.7" y1="1151.0" x2="1059.9" y2="1151.0" stroke="#3f38ff"/>
<line x1="978.3" y1="1135.6" x2="1017.7" y2="1135.6" stroke="#3f38ff"/>
<line x1="934.5" y1="1108.1" x2="978.3" y2="1108.1" stroke="#3f38ff"/>
<line x1="1706.0" y1="1224.1" x2="1793.4" y2="1224.1" stroke="#3a9a23"/>
<line x1="1747.4" y1="1235.0" x2="1786.0" y2="1235.0" stroke="#3a9a23"/>
<line x1="1747.4" y1="1246.0" x2="1785.2" y2="1246.0" stroke="#3a9a23"/>
<line x1="1706.0" y1="1240.5" x2="1747.4" y2="1240.5" stroke="#3a9a23"/>
<line x1="1594.1" y1="1232.3" x2="1706.0" y2="1232.3" stroke="#3f38ff"/>
<line x1="1632.7" y1="1256.9" x2="1793.4" y2="1256.9" stroke="#3f38ff"/>
<line x1="1652.8" y1="1267.8" x2="1801.7" y2="1267.8" stroke="#3f38ff"/>
<line x1="1935.0" y1="1278.8" x2="1938.8" y2="1278.8" stroke="#9e1620"/>
<line x1="1935.0" y1="1289.7" x2="1938.8" y2="1289.7" stroke="#9e1620"/>
<line x1="1652.8" y1="1284.2" x2="1935.0" y2="1284.2" stroke="#9e1620"/>
<line x1="1632.7" y1="1276.0" x2="1652.8" y2="1276.0" stroke="#3f38ff"/>
<line x1="1594.1" y1="1266.5" x2="1632.7" y2="1266.5" stroke="#3f38ff"/>
<line x1="1217.5" y1="1249.4" x2="1594.1" y2="1249.4" stroke="#3f38ff"/>
<line x1="1447.5" y1="1300.7" x2="1812.3" y2="1300.7" stroke="#9e1620"/>
<line x1="1665.8" y1="1311.6" x2="1697.0" y2="1311.6" stroke="#1e1673"/>
<line x1="1665.8" y1="1322.5" x2="1697.0" y2="1322.5" stroke="#1e1673"/>
<line x1="1499.5" y1="1317.1" x2="1665.8" y2="1317.1" stroke="#1e1673"/>
<line x1="1589.3" y1="1333.5" x2="1800.5" y2="1333.5" stroke="#9e1620"/>
<line x1="1589.3" y1="1344.4" x2="1747.4" y2="1344.4" stroke="#9e1620"/>
<line x1="1499.5" y1="1338.9" x2="1589.3" y2="1338.9" stroke="#9e1620"/>
<line x1="1447.5" y1="1328.0" x2="1499.5" y2="1328.0" stroke="#1e1673"/>
<line x1="1348.3" y1="1314.3" x2="1447.5" y2="1314.3" stroke="#1e1673"/>
<line x1="1374.4" y1="1355.3" x2="1801.2" y2="1355.3" stroke="#3f7fc4"/>
<line x1="1404.0" y1="1366.3" x2="1812.8" y2="1366.3" stroke="#eedf3c"/>
<line x1="1671.7" y1="1377.2" x2="1737.1" y2="1377.2" stroke="#3a9a23"/>
<line x1="1770.0" y1="1388.1" x2="1792.7" y2="1388.1" stroke="#3a9a23"/>
<line x1="1770.0" y1="1399.1" x2="1786.6" y2="1399.1" stroke="#3a9a23"/>
<line x1="1671.7" y1="1393.6" x2="1770.0" y2="1393.6" stroke="#3a9a23"/>
<line x1="1573.6" y1="1385.4" x2="1671.7" y2="1385.4" stroke="#3a9a23"/>
<line x1="1680.0" y1="1410.0" x2="1785.0" y2="1410.0" stroke="#3a9a23"/>
<line x1="1717.3" y1="1420.9" x2="1904.5" y2="1420.9" stroke="#3a9a23"/>
<line x1="1752.1" y1="1431.9" x2="1795.0" y2="1431.9" stroke="#3a9a23"/>
<line x1="1752.1" y1="1442.8" x2="1782.0" y2="1442.8" stroke="#3a9a23"/>
<line x1="1717.3" y1="1437.3" x2="1752.1" y2="1437.3" stroke="#3a9a23"/>
<line x1="1680.0" y1="1429.1" x2="1717.3" y2="1429.1" stroke="#3a9a23"/>
<line x1="1573.6" y1="1419.6" x2="1680.0" y2="1419.6" stroke="#3a9a23"/>
<line x1="1404.0" y1="1402.5" x2="1573.6" y2="1402.5" stroke="#3a9a23"/>
<line x1="1374.4" y1="1384.4" x2="1404.0" y2="1384.4" stroke="#3f38ff"/>
<line x1="1348.3" y1="1369.8" x2="1374.4" y2="1369.8" stroke="#3f38ff"/>
<line x1="1217.5" y1="1342.1" x2="1348.3" y2="1342.1" stroke="#3f38ff"/>
<line x1="934.5" y1="1295.7" x2="1217.5" y2="1295.7" stroke="#3f38ff"/>
<line x1="910.0" y1="1201.9" x2="934.5" y2="1201.9" stroke="#3f38ff"/>
<line x1="1259.6" y1="1453.7" x2="1528.0" y2="1453.7" stroke="#3f38ff"/>
<line x1="1761.5" y1="1464.7" x2="1853.0" y2="1464.7" stroke="#1e1673"/>
<line x1="1761.5" y1="1475.6" x2="1795.0" y2="1475.6" stroke="#1e1673"/>
<line x1="1321.7" y1="1470.1" x2="1761.5" y2="1470.1" stroke="#1e1673"/>
<line x1="1584.1" y1="1486.5" x2="1808.2" y2="1486.5" stroke="#eedf3c"/>
<line x1="1584.1" y1="1497.5" x2="1757.2" y2="1497.5" stroke="#1e1673"/>
<line x1="1381.5" y1="1492.0" x2="1584.1" y2="1492.0" stroke="#3f38ff"/>
<line x1="1434.7" y1="1508.4" x2="1792.7" y2="1508.4" stroke="#9e1620"/>
<line x1="1633.9" y1="1519.3" x2="1812.8" y2="1519.3" stroke="#1e1673"/>
<line x1="1688.3" y1="1530.3" x2="1853.0" y2="1530.3" stroke="#f85a22"/>
<line x1="1688.3" y1="1541.2" x2="1785.0" y2="1541.2" stroke="#eedf3c"/>
<line x1="1633.9" y1="1535.8" x2="1688.3" y2="1535.8" stroke="#3f38ff"/>
<line x1="1434.7" y1="1527.6" x2="1633.9" y2="1527.6" stroke="#3f38ff"/>
<line x1="1406.8" y1="1518.0" x2="1434.7" y2="1518.0" stroke="#3f38ff"/>
<line x1="1747.4" y1="1552.2" x2="1891.5" y2="1552.2" stroke="#1e1673"/>
<line x1="1768.0" y1="1563.1" x2="1809.7" y2="1563.1" stroke="#1e1673"/>
<line x1="1768.0" y1="1574.0" x2="1806.6" y2="1574.0" stroke="#1e1673"/>
<line x1="1747.4" y1="1568.6" x2="1768.0" y2="1568.6" stroke="#1e1673"/>
<line x1="1680.0" y1="1560.4" x2="1747.4" y2="1560.4" stroke="#1e1673"/>
<line x1="1734.4" y1="1585.0" x2="1845.3" y2="1585.0" stroke="#1e1673"/>
<line x1="1769.6" y1="1595.9" x2="1809.7" y2="1595.9" stroke="#1e1673"/>
<line x1="1769.6" y1="1606.8" x2="1797.4" y2="1606.8" stroke="#1e1673"/>
<line x1="1734.4" y1="1601.4" x2="1769.6" y2="1601.4" stroke="#1e1673"/>
<line x1="1680.0" y1="1593.2" x2="1734.4" y2="1593.2" stroke="#1e1673"/>
<line x1="1470.1" y1="1576.8" x2="1680.0" y2="1576.8" stroke="#1e1673"/>
<line x1="1717.8" y1="1617.8" x2="1892.7" y2="1617.8" stroke="#9e1620"/>
<line x1="1717.8" y1="1628.7" x2="1788.9" y2="1628.7" stroke="#9e1620"/>
<line x1="1527.3" y1="1623.2" x2="1717.8" y2="1623.2" stroke="#9e1620"/>
<line x1="1597.3" y1="1639.6" x2="1743.2" y2="1639.6" stroke="#3f7fc4"/>
<line x1="1695.4" y1="1650.6" x2="1791.1" y2="1650.6" stroke="#3f7fc4"/>
<line x1="1695.4" y1="1661.5" x2="1788.8" y2="1661.5" stroke="#3a9a23"/>
<line x1="1657.5" y1="1656.0" x2="1695.4" y2="1656.0" stroke="#3f38ff"/>
<line x1="1737.8" y1="1672.4" x2="1791.0" y2="1672.4" stroke="#3f7fc4"/>
<line x1="1785.0" y1="1683.4" x2="1808.0" y2="1683.4" stroke="#3f7fc4"/>
<line x1="1785.0" y1="1694.3" x2="1803.5" y2="1694.3" stroke="#3f7fc4"/>
<line x1="1737.8" y1="1688.8" x2="1785.0" y2="1688.8" stroke="#3f7fc4"/>
<line x1="1657.5" y1="1680.6" x2="1737.8" y2="1680.6" stroke="#3f38ff"/>
<line x1="1597.3" y1="1668.3" x2="1657.5" y2="1668.3" stroke="#3f38ff"/>
<line x1="1527.3" y1="1654.0" x2="1597.3" y2="1654.0" stroke="#3f38ff"/>
<line x1="1470.1" y1="1638.6" x2="1527.3" y2="1638.6" stroke="#3f38ff"/>
<line x1="1406.8" y1="1607.7" x2="1470.1" y2="1607.7" stroke="#3f38ff"/>
<line x1="1381.5" y1="1562.8" x2="1406.8" y2="1562.8" stroke="#3f38ff"/>
<line x1="1353.2" y1="1527.4" x2="1381.5" y2="1527.4" stroke="#3f38ff"/>
<line x1="1464.2" y1="1705.2" x2="1785.7" y2="1705.2" stroke="#1e1673"/>
<line x1="1605.5" y1="1716.2" x2="1885.3" y2="1716.2" stroke="#3f38ff"/>
<line x1="1741.0" y1="1727.1" x2="1879.1" y2="1727.1" stroke="#1e1673"/>
<line x1="1808.8" y1="1738.0" x2="1930.1" y2="1738.0" stroke="#3f38ff"/>
<line x1="1808.8" y1="1749.0" x2="1895.3" y2="1749.0" stroke="#3f7fc4"/>
<line x1="1762.7" y1="1743.5" x2="1808.8" y2="1743.5" stroke="#3f38ff"/>
<line x1="1798.2" y1="1759.9" x2="1913.1" y2="1759.9" stroke="#3f7fc4"/>
<line x1="1798.2" y1="1770.9" x2="1879.1" y2="1770.9" stroke="#1e1673"/>
<line x1="1762.7" y1="1765.4" x2="1798.2" y2="1765.4" stroke="#3f7fc4"/>
<line x1="1741.0" y1="1754.5" x2="1762.7" y2="1754.5" stroke="#3f38ff"/>
<line x1="1605.5" y1="1740.8" x2="1741.0" y2="1740.8" stroke="#3f38ff"/>
<line x1="1498.3" y1="1728.5" x2="1605.5" y2="1728.5" stroke="#3f38ff"/>
<line x1="1528.0" y1="1781.8" x2="1791.1" y2="1781.8" stroke="#3f38ff"/>
<line x1="1610.0" y1="1792.7" x2="1786.5" y2="1792.7" stroke="#3f7fc4"/>
<line x1="1610.0" y1="1803.7" x2="1784.9" y2="1803.7" stroke="#3f7fc4"/>
<line x1="1547.0" y1="1798.2" x2="1610.0" y2="1798.2" stroke="#3f7fc4"/>
<line x1="1661.1" y1="1814.6" x2="1781.8" y2="1814.6" stroke="#9e1620"/>
<line x1="1736.7" y1="1825.5" x2="1801.5" y2="1825.5" stroke="#3f7fc4"/>
<line x1="1736.7" y1="1836.5" x2="1781.8" y2="1836.5" stroke="#3f7fc4"/>
<line x1="1661.1" y1="1831.0" x2="1736.7" y2="1831.0" stroke="#3f7fc4"/>
<line x1="1547.0" y1="1822.8" x2="1661.1" y2="1822.8" stroke="#3f7fc4"/>
<line x1="1528.0" y1="1810.5" x2="1547.0" y2="1810.5" stroke="#3f38ff"/>
<line x1="1498.3" y1="1796.1" x2="1528.0" y2="1796.1" stroke="#3f38ff"/>
<line x1="1464.2" y1="1762.3" x2="1498.3" y2="1762.3" stroke="#3f38ff"/>
<line x1="1405.6" y1="1733.8" x2="1464.2" y2="1733.8" stroke="#3f38ff"/>
<line x1="1721.4" y1="1847.4" x2="1791.1" y2="1847.4" stroke="#3f7fc4"/>
<line x1="1721.4" y1="1858.3" x2="1791.1" y2="1858.3" stroke="#3f7fc4"/>
<line x1="1490.6" y1="1852.9" x2="1721.4" y2="1852.9" stroke="#3f7fc4"/>
<line x1="1549.7" y1="1869.3" x2="1630.3" y2="1869.3" stroke="#f85a22"/>
<line x1="1856.1" y1="1880.2" x2="1896.9" y2="1880.2" stroke="#3f7fc4"/>
<line x1="1856.1" y1="1891.1" x2="1879.9" y2="1891.1" stroke="#3f7fc4"/>
<line x1="1681.2" y1="1885.7" x2="1856.1" y2="1885.7" stroke="#3f7fc4"/>
<line x1="1791.3" y1="1902.1" x2="1893.8" y2="1902.1" stroke="#3f38ff"/>
<line x1="1791.3" y1="1913.0" x2="1885.3" y2="1913.0" stroke="#3f38ff"/>
<line x1="1681.2" y1="1907.5" x2="1791.3" y2="1907.5" stroke="#3f38ff"/>
<line x1="1549.7" y1="1896.6" x2="1681.2" y2="1896.6" stroke="#3f38ff"/>
<line x1="1490.6" y1="1882.9" x2="1549.7" y2="1882.9" stroke="#3f38ff"/>
<line x1="1423.7" y1="1867.9" x2="1490.6" y2="1867.9" stroke="#3f38ff"/>
<line x1="1719.6" y1="1923.9" x2="1783.2" y2="1923.9" stroke="#3a9a23"/>
<line x1="1719.6" y1="1934.9" x2="1766.3" y2="1934.9" stroke="#1e1673"/>
<line x1="1455.2" y1="1929.4" x2="1719.6" y2="1929.4" stroke="#3f38ff"/>
<line x1="1688.4" y1="1945.8" x2="1789.3" y2="1945.8" stroke="#1e1673"/>
<line x1="1688.4" y1="1956.8" x2="1785.1" y2="1956.8" stroke="#1e1673"/>
<line x1="1596.3" y1="1951.3" x2="1688.4" y2="1951.3" stroke="#1e1673"/>
<line x1="1661.2" y1="1967.7" x2="1811.3" y2="1967.7" stroke="#3f7fc4"/>
<line x1="1661.2" y1="1978.6" x2="1784.0" y2="1978.6" stroke="#3f7fc4"/>
<line x1="1596.3" y1="1973.2" x2="1661.2" y2="1973.2" stroke="#3f7fc4"/>
<line x1="1557.3" y1="1962.2" x2="1596.3" y2="1962.2" stroke="#3f38ff"/>
<line x1="1736.8" y1="1989.6" x2="1788.2" y2="1989.6" stroke="#3f7fc4"/>
<line x1="1736.8" y1="2000.5" x2="1790.3" y2="2000.5" stroke="#3f7fc4"/>
<line x1="1657.7" y1="1995.0" x2="1736.8" y2="1995.0" stroke="#3f7fc4"/>
<line x1="1702.1" y1="2011.4" x2="1785.1" y2="2011.4" stroke="#9e1620"/>
<line x1="1717.9" y1="2022.4" x2="1781.9" y2="2022.4" stroke="#3f7fc4"/>
<line x1="1736.8" y1="2033.3" x2="1849.2" y2="2033.3" stroke="#3f7fc4"/>
<line x1="1768.0" y1="2044.2" x2="1790.3" y2="2044.2" stroke="#3f7fc4"/>
<line x1="1768.0" y1="2055.2" x2="1786.1" y2="2055.2" stroke="#3f7fc4"/>
<line x1="1736.8" y1="2049.7" x2="1768.0" y2="2049.7" stroke="#3f7fc4"/>
<line x1="1717.9" y1="2041.5" x2="1736.8" y2="2041.5" stroke="#3f7fc4"/>
<line x1="1702.1" y1="2031.9" x2="1717.9" y2="2031.9" stroke="#3f7fc4"/>
<line x1="1657.7" y1="2021.7" x2="1702.1" y2="2021.7" stroke="#3f7fc4"/>
<line x1="1557.3" y1="2008.3" x2="1657.7" y2="2008.3" stroke="#3f7fc4"/>
<line x1="1455.2" y1="1985.3" x2="1557.3" y2="1985.3" stroke="#3f38ff"/>
<line x1="1423.7" y1="1957.3" x2="1455.2" y2="1957.3" stroke="#3f38ff"/>
<line x1="1405.6" y1="1912.6" x2="1423.7" y2="1912.6" stroke="#3f38ff"/>
<line x1="1353.2" y1="1823.2" x2="1405.6" y2="1823.2" stroke="#3f38ff"/>
<line x1="1321.7" y1="1675.3" x2="1353.2" y2="1675.3" stroke="#3f38ff"/>
<line x1="1259.6" y1="1572.7" x2="1321.7" y2="1572.7" stroke="#3f38ff"/>
<line x1="910.0" y1="1513.2" x2="1259.6" y2="1513.2" stroke="#3f38ff"/>
<line x1="883.1" y1="1357.6" x2="910.0" y2="1357.6" stroke="#3f38ff"/>
<line x1="445.6" y1="1127.7" x2="883.1" y2="1127.7" stroke="#3f38ff"/>
<line x1="381.9" y1="965.4" x2="445.6" y2="965.4" stroke="#3f38ff"/>
<line x1="356.6" y1="780.4" x2="381.9" y2="780.4" stroke="#3f38ff"/>
<line x1="324.5" y1="602.8" x2="356.6" y2="602.8" stroke="#3f38ff"/>
<line x1="279.0" y1="464.3" x2="324.5" y2="464.3" stroke="#3f38ff"/>
<line x1="238.0" y1="356.3" x2="279.0" y2="356.3" stroke="#3f38ff"/>
</g>
<g fill="#000">
<circle cx="705.5" cy="97.8" r="19.2"/>
<circle cx="708.7" cy="108.7" r="19.2"/>
<circle cx="708.7" cy="119.7" r="19.2"/>
<circle cx="1016.0" cy="130.6" r="19.2"/>
<circle cx="1798.3" cy="141.5" r="19.2"/>
<circle cx="1793.0" cy="152.5" r="19.2"/>
<circle cx="1763.9" cy="163.4" r="19.2"/>
<circle cx="1784.0" cy="174.3" r="19.2"/>
<circle cx="1809.2" cy="185.3" r="19.2"/>
<circle cx="1745.0" cy="196.2" r="19.2"/>
<circle cx="1781.5" cy="207.2" r="19.2"/>
<circle cx="1862.6" cy="218.1" r="19.2"/>
<circle cx="1760.5" cy="229.0" r="19.2"/>
<circle cx="746.5" cy="240.0" r="19.2"/>
<circle cx="708.0" cy="250.9" r="19.2"/>
<circle cx="708.0" cy="261.8" r="19.2"/>
<circle cx="980.7" cy="272.8" r="19.2"/>
<circle cx="904.1" cy="283.7" r="19.2"/>
<circle cx="1141.4" cy="294.6" r="19.2"/>
<circle cx="1039.0" cy="305.6" r="19.2"/>
<circle cx="1039.0" cy="316.5" r="19.2"/>
<circle cx="920.8" cy="327.4" r="19.2"/>
<circle cx="1063.3" cy="338.4" r="19.2"/>
<circle cx="1039.6" cy="349.3" r="19.2"/>
<circle cx="1016.0" cy="360.2" r="19.2"/>
<circle cx="904.1" cy="371.2" r="19.2"/>
<circle cx="1088.5" cy="382.1" r="19.2"/>
<circle cx="1712.5" cy="393.0" r="19.2"/>
<circle cx="1079.0" cy="404.0" r="19.2"/>
<circle cx="786.0" cy="414.9" r="19.2"/>
<circle cx="766.0" cy="425.9" r="19.2"/>
<circle cx="764.0" cy="436.8" r="19.2"/>
<circle cx="916.3" cy="447.7" r="19.2"/>
<circle cx="764.0" cy="458.7" r="19.2"/>
<circle cx="709.0" cy="469.6" r="19.2"/>
<circle cx="709.0" cy="480.5" r="19.2"/>
<circle cx="756.5" cy="491.5" r="19.2"/>
<circle cx="735.7" cy="502.4" r="19.2"/>
<circle cx="709.0" cy="513.3" r="19.2"/>
<circle cx="709.0" cy="524.3" r="19.2"/>
<circle cx="855.0" cy="535.2" r="19.2"/>
<circle cx="800.0" cy="546.1" r="19.2"/>
<circle cx="800.0" cy="557.1" r="19.2"/>
<circle cx="800.0" cy="568.0" r="19.2"/>
<circle cx="1051.8" cy="578.9" r="19.2"/>
<circle cx="1026.6" cy="589.9" r="19.2"/>
<circle cx="1156.8" cy="600.8" r="19.2"/>
<circle cx="1003.0" cy="611.7" r="19.2"/>
<circle cx="990.4" cy="622.7" r="19.2"/>
<circle cx="739.6" cy="633.6" r="19.2"/>
<circle cx="722.0" cy="644.5" r="19.2"/>
<circle cx="722.0" cy="655.5" r="19.2"/>
<circle cx="724.0" cy="666.4" r="19.2"/>
<circle cx="855.3" cy="677.4" r="19.2"/>
<circle cx="708.1" cy="688.3" r="19.2"/>
<circle cx="783.8" cy="699.2" r="19.2"/>
<circle cx="746.0" cy="710.2" r="19.2"/>
<circle cx="767.5" cy="721.1" r="19.2"/>
<circle cx="780.7" cy="732.0" r="19.2"/>
<circle cx="782.2" cy="743.0" r="19.2"/>
<circle cx="782.2" cy="753.9" r="19.2"/>
<circle cx="782.0" cy="764.8" r="19.2"/>
<circle cx="782.0" cy="775.8" r="19.2"/>
<circle cx="782.0" cy="786.7" r="19.2"/>
<circle cx="728.6" cy="797.6" r="19.2"/>
<circle cx="717.6" cy="808.6" r="19.2"/>
<circle cx="1795.0" cy="819.5" r="19.2"/>
<circle cx="1717.0" cy="830.4" r="19.2"/>
<circle cx="1809.0" cy="841.4" r="19.2"/>
<circle cx="1790.4" cy="852.3" r="19.2"/>
<circle cx="1761.9" cy="863.2" r="19.2"/>
<circle cx="1807.4" cy="874.2" r="19.2"/>
<circle cx="1795.0" cy="885.1" r="19.2"/>
<circle cx="1783.5" cy="896.1" r="19.2"/>
<circle cx="1809.7" cy="907.0" r="19.2"/>
<circle cx="1788.0" cy="917.9" r="19.2"/>
<circle cx="1797.4" cy="928.9" r="19.2"/>
<circle cx="1797.0" cy="939.8" r="19.2"/>
<circle cx="1794.0" cy="950.7" r="19.2"/>
<circle cx="1774.0" cy="961.7" r="19.2"/>
<circle cx="1774.0" cy="972.6" r="19.2"/>
<circle cx="1784.0" cy="983.5" r="19.2"/>
<circle cx="1799.0" cy="994.5" r="19.2"/>
<circle cx="1786.6" cy="1005.4" r="19.2"/>
<circle cx="1802.0" cy="1016.3" r="19.2"/>
<circle cx="1783.5" cy="1027.3" r="19.2"/>
<circle cx="1785.0" cy="1038.2" r="19.2"/>
<circle cx="1791.0" cy="1049.1" r="19.2"/>
<circle cx="1791.0" cy="1060.1" r="19.2"/>
<circle cx="1797.4" cy="1071.0" r="19.2"/>
<circle cx="1748.0" cy="1082.0" r="19.2"/>
<circle cx="1811.3" cy="1092.9" r="19.2"/>
<circle cx="1783.5" cy="1103.8" r="19.2"/>
<circle cx="1183.7" cy="1114.8" r="19.2"/>
<circle cx="1183.7" cy="1125.7" r="19.2"/>
<circle cx="1207.8" cy="1136.6" r="19.2"/>
<circle cx="1800.5" cy="1147.6" r="19.2"/>
<circle cx="1714.7" cy="1158.5" r="19.2"/>
<circle cx="1804.8" cy="1169.4" r="19.2"/>
<circle cx="1746.2" cy="1180.4" r="19.2"/>
<circle cx="1791.0" cy="1191.3" r="19.2"/>
<circle cx="1746.2" cy="1202.2" r="19.2"/>
<circle cx="1602.5" cy="1213.2" r="19.2"/>
<circle cx="1793.4" cy="1224.1" r="19.2"/>
<circle cx="1786.0" cy="1235.0" r="19.2"/>
<circle cx="1785.2" cy="1246.0" r="19.2"/>
<circle cx="1793.4" cy="1256.9" r="19.2"/>
<circle cx="1801.7" cy="1267.8" r="19.2"/>
<circle cx="1938.8" cy="1278.8" r="19.2"/>
<circle cx="1938.8" cy="1289.7" r="19.2"/>
<circle cx="1812.3" cy="1300.7" r="19.2"/>
<circle cx="1697.0" cy="1311.6" r="19.2"/>
<circle cx="1697.0" cy="1322.5" r="19.2"/>
<circle cx="1800.5" cy="1333.5" r="19.2"/>
<circle cx="1747.4" cy="1344.4" r="19.2"/>
<circle cx="1801.2" cy="1355.3" r="19.2"/>
<circle cx="1812.8" cy="1366.3" r="19.2"/>
<circle cx="1737.1" cy="1377.2" r="19.2"/>
<circle cx="1792.7" cy="1388.1" r="19.2"/>
<circle cx="1786.6" cy="1399.1" r="19.2"/>
<circle cx="1785.0" cy="1410.0" r="19.2"/>
<circle cx="1904.5" cy="1420.9" r="19.2"/>
<circle cx="1795.0" cy="1431.9" r="19.2"/>
<circle cx="1782.0" cy="1442.8" r="19.2"/>
<circle cx="1528.0" cy="1453.7" r="19.2"/>
<circle cx="1853.0" cy="1464.7" r="19.2"/>
<circle cx="1795.0" cy="1475.6" r="19.2"/>
<circle cx="1808.2" cy="1486.5" r="19.2"/>
<circle cx="1757.2" cy="1497.5" r="19.2"/>
<circle cx="1792.7" cy="1508.4" r="19.2"/>
<circle cx="1812.8" cy="1519.3" r="19.2"/>
<circle cx="1853.0" cy="1530.3" r="19.2"/>
<circle cx="1785.0" cy="1541.2" r="19.2"/>
<circle cx="1891.5" cy="1552.2" r="19.2"/>
<circle cx="1809.7" cy="1563.1" r="19.2"/>
<circle cx="1806.6" cy="1574.0" r="19.2"/>
<circle cx="1845.3" cy="1585.0" r="19.2"/>
<circle cx="1809.7" cy="1595.9" r="19.2"/>
<circle cx="1797.4" cy="1606.8" r="19.2"/>
<circle cx="1892.7" cy="1617.8" r="19.2"/>
<circle cx="1788.9" cy="1628.7" r="19.2"/>
<circle cx="1743.2" cy="1639.6" r="19.2"/>
<circle cx="1791.1" cy="1650.6" r="19.2"/>
<circle cx="1788.8" cy="1661.5" r="19.2"/>
<circle cx="1791.0" cy="1672.4" r="19.2"/>
<circle cx="1808.0" cy="1683.4" r="19.2"/>
<circle cx="1803.5" cy="1694.3" r="19.2"/>
<circle cx="1785.7" cy="1705.2" r="19.2"/>
<circle cx="1885.3" cy="1716.2" r="19.2"/>
<circle cx="1879.1" cy="1727.1" r="19.2"/>
<circle cx="1930.1" cy="1738.0" r="19.2"/>
<circle cx="1895.3" cy="1749.0" r="19.2"/>
<circle cx="1913.1" cy="1759.9" r="19.2"/>
<circle cx="1879.1" cy="1770.9" r="19.2"/>
<circle cx="1791.1" cy="1781.8" r="19.2"/>
<circle cx="1786.5" cy="1792.7" r="19.2"/>
<circle cx="1784.9" cy="1803.7" r="19.2"/>
<circle cx="1781.8" cy="1814.6" r="19.2"/>
<circle cx="1801.5" cy="1825.5" r="19.2"/>
<circle cx="1781.8" cy="1836.5" r="19.2"/>
<circle cx="1791.1" cy="1847.4" r="19.2"/>
<circle cx="1791.1" cy="1858.3" r="19.2"/>
<circle cx="1630.3" cy="1869.3" r="19.2"/>
<circle cx="1896.9" cy="1880.2" r="19.2"/>
<circle cx="1879.9" cy="1891.1" r="19.2"/>
<circle cx="1893.8" cy="1902.1" r="19.2"/>
<circle cx="1885.3" cy="1913.0" r="19.2"/>
<circle cx="1783.2" cy="1923.9" r="19.2"/>
<circle cx="1766.3" cy="1934.9" r="19.2"/>
<circle cx="1789.3" cy="1945.8" r="19.2"/>
<circle cx="1785.1" cy="1956.8" r="19.2"/>
<circle cx="1811.3" cy="1967.7" r="19.2"/>
<circle cx="1784.0" cy="1978.6" r="19.2"/>
<circle cx="1788.2" cy="1989.6" r="19.2"/>
<circle cx="1790.3" cy="2000.5" r="19.2"/>
<circle cx="1785.1" cy="2011.4" r="19.2"/>
<circle cx="1781.9" cy="2022.4" r="19.2"/>
<circle cx="1849.2" cy="2033.3" r="19.2"/>
<circle cx="1790.3" cy="2044.2" r="19.2"/>
<circle cx="1786.1" cy="2055.2" r="19.2"/>
</g>
<g>
<circle cx="1786.1" cy="2055.2" r="14.85" fill="#3f7fc4"/>
<circle cx="1790.3" cy="2044.2" r="14.85" fill="#3f7fc4"/>
<circle cx="1849.2" cy="2033.3" r="14.85" fill="#3f7fc4"/>
<circle cx="1781.9" cy="2022.4" r="14.85" fill="#3f7fc4"/>
<circle cx="1785.1" cy="2011.4" r="14.85" fill="#9e1620"/>
<circle cx="1790.3" cy="2000.5" r="14.85" fill="#3f7fc4"/>
<circle cx="1788.2" cy="1989.6" r="14.85" fill="#3f7fc4"/>
<circle cx="1784.0" cy="1978.6" r="14.85" fill="#3f7fc4"/>
<circle cx="1811.3" cy="1967.7" r="14.85" fill="#3f7fc4"/>
<circle cx="1785.1" cy="1956.8" r="14.85" fill="#1e1673"/>
<circle cx="1789.3" cy="1945.8" r="14.85" fill="#1e1673"/>
<circle cx="1766.3" cy="1934.9" r="14.85" fill="#1e1673"/>
<circle cx="1783.2" cy="1923.9" r="14.85" fill="#3a9a23"/>
<circle cx="1885.3" cy="1913.0" r="14.85" fill="#3f38ff"/>
<circle cx="1893.8" cy="1902.1" r="14.85" fill="#3f38ff"/>
<circle cx="1879.9" cy="1891.1" r="14.85" fill="#3f7fc4"/>
<circle cx="1896.9" cy="1880.2" r="14.85" fill="#3f7fc4"/>
<circle cx="1630.3" cy="1869.3" r="14.85" fill="#f85a22"/>
<circle cx="1791.1" cy="1858.3" r="14.85" fill="#3f7fc4"/>
<circle cx="1791.1" cy="1847.4" r="14.85" fill="#3f7fc4"/>
<circle cx="1781.8" cy="1836.5" r="14.85" fill="#3f7fc4"/>
<circle cx="1801.5" cy="1825.5" r="14.85" fill="#3f7fc4"/>
<circle cx="1781.8" cy="1814.6" r="14.85" fill="#9e1620"/>
<circle cx="1784.9" cy="1803.7" r="14.85" fill="#3f7fc4"/>
<circle cx="1786.5" cy="1792.7" r="14.85" fill="#3f7fc4"/>
<circle cx="1791.1" cy="1781.8" r="14.85" fill="#3f38ff"/>
<circle cx="1879.1" cy="1770.9" r="14.85" fill="#1e1673"/>
<circle cx="1913.1" cy="1759.9" r="14.85" fill="#3f7fc4"/>
<circle cx="1895.3" cy="1749.0" r="14.85" fill="#3f7fc4"/>
<circle cx="1930.1" cy="1738.0" r="14.85" fill="#3f38ff"/>
<circle cx="1879.1" cy="1727.1" r="14.85" fill="#1e1673"/>
<circle cx="1885.3" cy="1716.2" r="14.85" fill="#3f38ff"/>
<circle cx="1785.7" cy="1705.2" r="14.85" fill="#1e1673"/>
<circle cx="1803.5" cy="1694.3" r="14.85" fill="#3f7fc4"/>
<circle cx="1808.0" cy="1683.4" r="14.85" fill="#3f7fc4"/>
<circle cx="1791.0" cy="1672.4" r="14.85" fill="#3f7fc4"/>
<circle cx="1788.8" cy="1661.5" r="14.85" fill="#3a9a23"/>
<circle cx="1791.1" cy="1650.6" r="14.85" fill="#3f7fc4"/>
<circle cx="1743.2" cy="1639.6" r="14.85" fill="#3f7fc4"/>
<circle cx="1788.9" cy="1628.7" r="14.85" fill="#9e1620"/>
<circle cx="1892.7" cy="1617.8" r="14.85" fill="#9e1620"/>
<circle cx="1797.4" cy="1606.8" r="14.85" fill="#1e1673"/>
<circle cx="1809.7" cy="1595.9" r="14.85" fill="#1e1673"/>
<circle cx="1845.3" cy="1585.0" r="14.85" fill="#1e1673"/>
<circle cx="1806.6" cy="1574.0" r="14.85" fill="#1e1673"/>
<circle cx="1809.7" cy="1563.1" r="14.85" fill="#1e1673"/>
<circle cx="1891.5" cy="1552.2" r="14.85" fill="#1e1673"/>
<circle cx="1785.0" cy="1541.2" r="14.85" fill="#eedf3c"/>
<circle cx="1853.0" cy="1530.3" r="14.85" fill="#f85a22"/>
<circle cx="1812.8" cy="1519.3" r="14.85" fill="#1e1673"/>
<circle cx="1792.7" cy="1508.4" r="14.85" fill="#9e1620"/>
<circle cx="1757.2" cy="1497.5" r="14.85" fill="#1e1673"/>
<circle cx="1808.2" cy="1486.5" r="14.85" fill="#eedf3c"/>
<circle cx="1795.0" cy="1475.6" r="14.85" fill="#1e1673"/>
<circle cx="1853.0" cy="1464.7" r="14.85" fill="#1e1673"/>
<circle cx="1528.0" cy="1453.7" r="14.85" fill="#3f38ff"/>
<circle cx="1782.0" cy="1442.8" r="14.85" fill="#3a9a23"/>
<circle cx="1795.0" cy="1431.9" r="14.85" fill="#3a9a23"/>
<circle cx="1904.5" cy="1420.9" r="14.85" fill="#3a9a23"/>
<circle cx="1785.0" cy="1410.0" r="14.85" fill="#3a9a23"/>
<circle cx="1786.6" cy="1399.1" r="14.85" fill="#3a9a23"/>
<circle cx="1792.7" cy="1388.1" r="14.85" fill="#3a9a23"/>
<circle cx="1737.1" cy="1377.2" r="14.85" fill="#3a9a23"/>
<circle cx="1812.8" cy="1366.3" r="14.85" fill="#eedf3c"/>
<circle cx="1801.2" cy="1355.3" r="14.85" fill="#3f7fc4"/>
<circle cx="1747.4" cy="1344.4" r="14.85" fill="#9e1620"/>
<circle cx="1800.5" cy="1333.5" r="14.85" fill="#9e1620"/>
<circle cx="1697.0" cy="1322.5" r="14.85" fill="#1e1673"/>
<circle cx="1697.0" cy="1311.6" r="14.85" fill="#1e1673"/>
<circle cx="1812.3" cy="1300.7" r="14.85" fill="#9e1620"/>
<circle cx="1938.8" cy="1289.7" r="14.85" fill="#9e1620"/>
<circle cx="1938.8" cy="1278.8" r="14.85" fill="#9e1620"/>
<circle cx="1801.7" cy="1267.8" r="14.85" fill="#3f38ff"/>
<circle cx="1793.4" cy="1256.9" r="14.85" fill="#3f38ff"/>
<circle cx="1785.2" cy="1246.0" r="14.85" fill="#3a9a23"/>
<circle cx="1786.0" cy="1235.0" r="14.85" fill="#3a9a23"/>
<circle cx="1793.4" cy="1224.1" r="14.85" fill="#3a9a23"/>
<circle cx="1602.5" cy="1213.2" r="14.85" fill="#1e1673"/>
<circle cx="1746.2" cy="1202.2" r="14.85" fill="#3f7fc4"/>
<circle cx="1791.0" cy="1191.3" r="14.85" fill="#c4c4c4"/>
<circle cx="1746.2" cy="1180.4" r="14.85" fill="#3f7fc4"/>
<circle cx="1804.8" cy="1169.4" r="14.85" fill="#c4c4c4"/>
<circle cx="1714.7" cy="1158.5" r="14.85" fill="#3f7fc4"/>
<circle cx="1800.5" cy="1147.6" r="14.85" fill="#3f7fc4"/>
<circle cx="1207.8" cy="1136.6" r="14.85" fill="#3f38ff"/>
<circle cx="1183.7" cy="1114.8" r="14.85" fill="#3f7fc4"/>
<circle cx="1183.7" cy="1125.7" r="14.85" fill="#3f38ff"/>
<circle cx="1783.5" cy="1103.8" r="14.85" fill="#3a9a23"/>
<circle cx="1811.3" cy="1092.9" r="14.85" fill="#eedf3c"/>
<circle cx="1748.0" cy="1082.0" r="14.85" fill="#3a9a23"/>
<circle cx="1797.4" cy="1071.0" r="14.85" fill="#f85a22"/>
<circle cx="1791.0" cy="1060.1" r="14.85" fill="#1e1673"/>
<circle cx="1791.0" cy="1049.1" r="14.85" fill="#1e1673"/>
<circle cx="1785.0" cy="1038.2" r="14.85" fill="#3a9a23"/>
<circle cx="1783.5" cy="1027.3" r="14.85" fill="#9e1620"/>
<circle cx="1802.0" cy="1016.3" r="14.85" fill="#3f38ff"/>
<circle cx="1786.6" cy="1005.4" r="14.85" fill="#3a9a23"/>
<circle cx="1799.0" cy="994.5" r="14.85" fill="#1e1673"/>
<circle cx="1784.0" cy="983.5" r="14.85" fill="#1e1673"/>
<circle cx="1774.0" cy="972.6" r="14.85" fill="#1e1673"/>
<circle cx="1774.0" cy="961.7" r="14.85" fill="#1e1673"/>
<circle cx="1794.0" cy="950.7" r="14.85" fill="#1e1673"/>
<circle cx="1797.0" cy="939.8" r="14.85" fill="#1e1673"/>
<circle cx="1797.4" cy="928.9" r="14.85" fill="#3f38ff"/>
<circle cx="1788.0" cy="917.9" r="14.85" fill="#3f7fc4"/>
<circle cx="1809.7" cy="907.0" r="14.85" fill="#3a9a23"/>
<circle cx="1783.5" cy="896.1" r="14.85" fill="#1e1673"/>
<circle cx="1795.0" cy="885.1" r="14.85" fill="#3a9a23"/>
<circle cx="1807.4" cy="874.2" r="14.85" fill="#9e1620"/>
<circle cx="1761.9" cy="863.2" r="14.85" fill="#9e1620"/>
<circle cx="1790.4" cy="852.3" r="14.85" fill="#9e1620"/>
<circle cx="1809.0" cy="841.4" r="14.85" fill="#eedf3c"/>
<circle cx="1717.0" cy="830.4" r="14.85" fill="#3f38ff"/>
<circle cx="1795.0" cy="819.5" r="14.85" fill="#3f38ff"/>
<circle cx="717.6" cy="808.6" r="14.85" fill="#3f38ff"/>
<circle cx="728.6" cy="797.6" r="14.85" fill="#3f7fc4"/>
<circle cx="782.0" cy="786.7" r="14.85" fill="#3f7fc4"/>
<circle cx="782.0" cy="775.8" r="14.85" fill="#3f7fc4"/>
<circle cx="782.0" cy="764.8" r="14.85" fill="#3f7fc4"/>
<circle cx="782.2" cy="753.9" r="14.85" fill="#3f7fc4"/>
<circle cx="782.2" cy="743.0" r="14.85" fill="#3f38ff"/>
<circle cx="780.7" cy="732.0" r="14.85" fill="#3f38ff"/>
<circle cx="767.5" cy="721.1" r="14.85" fill="#3f38ff"/>
<circle cx="746.0" cy="710.2" r="14.85" fill="#9e1620"/>
<circle cx="783.8" cy="699.2" r="14.85" fill="#1e1673"/>
<circle cx="708.1" cy="688.3" r="14.85" fill="#1e1673"/>
<circle cx="855.3" cy="677.4" r="14.85" fill="#3a9a23"/>
<circle cx="724.0" cy="666.4" r="14.85" fill="#3f38ff"/>
<circle cx="722.0" cy="655.5" r="14.85" fill="#3f38ff"/>
<circle cx="722.0" cy="644.5" r="14.85" fill="#3f38ff"/>
<circle cx="739.6" cy="633.6" r="14.85" fill="#3f38ff"/>
<circle cx="990.4" cy="622.7" r="14.85" fill="#1e1673"/>
<circle cx="1003.0" cy="611.7" r="14.85" fill="#1e1673"/>
<circle cx="1156.8" cy="600.8" r="14.85" fill="#3f38ff"/>
<circle cx="1026.6" cy="589.9" r="14.85" fill="#3a9a23"/>
<circle cx="1051.8" cy="578.9" r="14.85" fill="#3a9a23"/>
<circle cx="800.0" cy="568.0" r="14.85" fill="#3f38ff"/>
<circle cx="800.0" cy="557.1" r="14.85" fill="#3f38ff"/>
<circle cx="800.0" cy="546.1" r="14.85" fill="#3f38ff"/>
<circle cx="855.0" cy="535.2" r="14.85" fill="#3f38ff"/>
<circle cx="709.0" cy="524.3" r="14.85" fill="#1e1673"/>
<circle cx="709.0" cy="513.3" r="14.85" fill="#1e1673"/>
<circle cx="735.7" cy="502.4" r="14.85" fill="#3f38ff"/>
<circle cx="756.5" cy="491.5" r="14.85" fill="#000000"/>
<circle cx="709.0" cy="480.5" r="14.85" fill="#1e1673"/>
<circle cx="709.0" cy="469.6" r="14.85" fill="#1e1673"/>
<circle cx="764.0" cy="458.7" r="14.85" fill="#3a9a23"/>
<circle cx="916.3" cy="447.7" r="14.85" fill="#000000"/>
<circle cx="764.0" cy="436.8" r="14.85" fill="#3a9a23"/>
<circle cx="766.0" cy="425.9" r="14.85" fill="#3a9a23"/>
<circle cx="786.0" cy="414.9" r="14.85" fill="#3a9a23"/>
<circle cx="1079.0" cy="404.0" r="14.85" fill="#1e1673"/>
<circle cx="1712.5" cy="393.0" r="14.85" fill="#1e1673"/>
<circle cx="1088.5" cy="382.1" r="14.85" fill="#3f7fc4"/>
<circle cx="904.1" cy="371.2" r="14.85" fill="#1e1673"/>
<circle cx="1016.0" cy="360.2" r="14.85" fill="#1e1673"/>
<circle cx="1039.6" cy="349.3" r="14.85" fill="#1e1673"/>
<circle cx="1063.3" cy="338.4" r="14.85" fill="#1e1673"/>
<circle cx="920.8" cy="327.4" r="14.85" fill="#1e1673"/>
<circle cx="1039.0" cy="316.5" r="14.85" fill="#1e1673"/>
<circle cx="1039.0" cy="305.6" r="14.85" fill="#1e1673"/>
<circle cx="1141.4" cy="294.6" r="14.85" fill="#3a9a23"/>
<circle cx="904.1" cy="283.7" r="14.85" fill="#1e1673"/>
<circle cx="980.7" cy="272.8" r="14.85" fill="#1e1673"/>
<circle cx="708.0" cy="261.8" r="14.85" fill="#3f7fc4"/>
<circle cx="708.0" cy="250.9" r="14.85" fill="#3f7fc4"/>
<circle cx="746.5" cy="240.0" r="14.85" fill="#1e1673"/>
<circle cx="1760.5" cy="229.0" r="14.85" fill="#3f7fc4"/>
<circle cx="1862.6" cy="218.1" r="14.85" fill="#3f7fc4"/>
<circle cx="1781.5" cy="207.2" r="14.85" fill="#3f7fc4"/>
<circle cx="1745.0" cy="196.2" r="14.85" fill="#3f7fc4"/>
<circle cx="1809.2" cy="185.3" r="14.85" fill="#1e1673"/>
<circle cx="1784.0" cy="174.3" r="14.85" fill="#3a9a23"/>
<circle cx="1763.9" cy="163.4" r="14.85" fill="#9e1620"/>
<circle cx="1793.0" cy="152.5" r="14.85" fill="#9e1620"/>
<circle cx="1798.3" cy="141.5" r="14.85" fill="#3f7fc4"/>
<circle cx="1016.0" cy="130.6" r="14.85" fill="#3f38ff"/>
<circle cx="708.7" cy="119.7" r="14.85" fill="#1e1673"/>
<circle cx="708.7" cy="108.7" r="14.85" fill="#1e1673"/>
<circle cx="705.5" cy="97.8" r="14.85" fill="#3f38ff"/>
</g>
<line x1="0" y1="2152.2" x2="2167" y2="2152.2" stroke="#000" stroke-width="1.6"/>
<line x1="99.3" y1="2152.2" x2="99.3" y2="2159.2" stroke="#000" stroke-width="1.6"/>
<text x="99.3" y="2209.8" font-family="DejaVu Sans, Liberation Sans, sans-serif" font-size="59.5" text-anchor="middle" fill="#000">2015</text>
<line x1="318.0" y1="2152.2" x2="318.0" y2="2159.2" stroke="#000" stroke-width="1.6"/>
<text x="318.0" y="2209.8" font-family="DejaVu Sans, Liberation Sans, sans-serif" font-size="59.5" text-anchor="middle" fill="#000">2016</text>
<line x1="536.6" y1="2152.2" x2="536.6" y2="2159.2" stroke="#000" stroke-width="1.6"/>
<text x="536.6" y="2209.8" font-family="DejaVu Sans, Liberation Sans, sans-serif" font-size="59.5" text-anchor="middle" fill="#000">2017</text>
<line x1="755.3" y1="2152.2" x2="755.3" y2="2159.2" stroke="#000" stroke-width="1.6"/>
<text x="755.3" y="2209.8" font-family="DejaVu Sans, Liberation Sans, sans-serif" font-size="59.5" text-anchor="middle" fill="#000">2018</text>
<line x1="974.0" y1="2152.2" x2="974.0" y2="2159.2" stroke="#000" stroke-width="1.6"/>
<text x="974.0" y="2209.8" font-family="DejaVu Sans, Liberation Sans, sans-serif" font-size="59.5" text-anchor="middle" fill="#000">2019</text>
<line x1="1192.6" y1="2152.2" x2="1192.6" y2="2159.2" stroke="#000" stroke-width="1.6"/>
<text x="1192.6" y="2209.8" font-family="DejaVu Sans, Liberation Sans, sans-serif" font-size="59.5" text-anchor="middle" fill="#000">2020</text>
<line x1="1411.3" y1="2152.2" x2="1411.3" y2="2159.2" stroke="#000" stroke-width="1.6"/>
<text x="1411.3" y="2209.8" font-family="DejaVu Sans, Liberation Sans, sans-serif" font-size="59.5" text-anchor="middle" fill="#000">2021</text>
<line x1="1630.0" y1="2152.2" x2="1630.0" y2="2159.2" stroke="#000" stroke-width="1.6"/>
<text x="1630.0" y="2209.8" font-family="DejaVu Sans, Liberation Sans, sans-serif" font-size="59.5" text-anchor="middle" fill="#000">2022</text>
<line x1="1848.7" y1="2152.2" x2="1848.7" y2="2159.2" stroke="#000" stroke-width="1.6"/>
<text x="1848.7" y="2209.8" font-family="DejaVu Sans, Liberation Sans, sans-serif" font-size="59.5" text-anchor="middle" fill="#000">2023</text>
<line x1="2067.3" y1="2152.2" x2="2067.3" y2="2159.2" stroke="#000" stroke-width="1.6"/>
<text x="2067.3" y="2209.8" font-family="DejaVu Sans, Liberation Sans, sans-serif" font-size="59.5" text-anchor="middle" fill="#000">2024</text>
<circle cx="99.4" cy="1338.6" r="30.4" fill="#3f38ff" stroke="#000" stroke-width="1.3"/>
<text x="142.8" y="1360.5" font-family="DejaVu Sans, Liberation Sans, sans-serif" font-size="77.8" fill="#000">Rivers</text>
<circle cx="99.4" cy="1447.9" r="30.4" fill="#1e1673" stroke="#000" stroke-width="1.3"/>
<text x="142.8" y="1469.8" font-family="DejaVu Sans, Liberation Sans, sans-serif" font-size="77.8" fill="#000">SS</text>
<circle cx="99.4" cy="1557.2" r="30.4" fill="#3a9a23" stroke="#000" stroke-width="1.3"/>
<text x="142.8" y="1579.1" font-family="DejaVu Sans, Liberation Sans, sans-serif" font-size="77.8" fill="#000">SW</text>
<circle cx="99.4" cy="1666.5" r="30.4" fill="#3f7fc4" stroke="#000" stroke-width="1.3"/>
<text x="142.8" y="1688.4" font-family="DejaVu Sans, Liberation Sans, sans-serif" font-size="77.8" fill="#000">SE</text>
<circle cx="99.4" cy="1775.8" r="30.4" fill="#eedf3c" stroke="#000" stroke-width="1.3"/>
<text x="142.8" y="1797.7" font-family="DejaVu Sans, Liberation Sans, sans-serif" font-size="77.8" fill="#000">NW</text>
<circle cx="99.4" cy="1885.1" r="30.4" fill="#f85a22" stroke="#000" stroke-width="1.3"/>
<text x="142.8" y="1907.0" font-family="DejaVu Sans, Liberation Sans, sans-serif" font-size="77.8" fill="#000">NE</text>
<circle cx="99.4" cy="1994.4" r="30.4" fill="#9e1620" stroke="#000" stroke-width="1.3"/>
<text x="142.8" y="2016.3" font-family="DejaVu Sans, Liberation Sans, sans-serif" font-size="77.8" fill="#000">NC</text>
</svg>
</body></html>
